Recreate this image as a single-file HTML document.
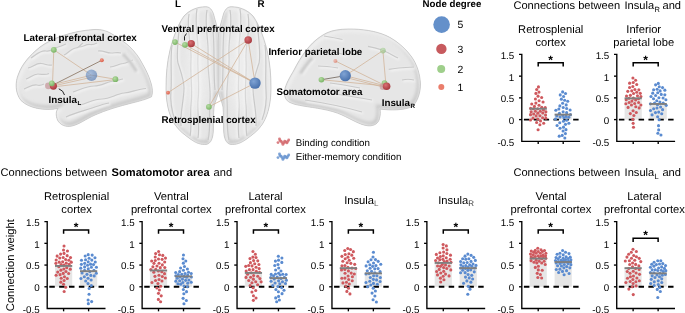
<!DOCTYPE html><html><head><meta charset="utf-8"><style>html,body{margin:0;padding:0;background:#fff;}svg{display:block;will-change:transform;}text{font-family:"Liberation Sans", sans-serif;fill:#000;text-rendering:geometricPrecision;}</style></head><body>
<svg width="685" height="313" viewBox="0 0 685 313">
<defs>
<radialGradient id="bg" cx="50%" cy="45%" r="60%">
<stop offset="0" stop-color="#eeeeee"/><stop offset="0.7" stop-color="#e6e6e6"/><stop offset="1" stop-color="#d6d6d6"/></radialGradient>
<radialGradient id="gb" cx="38%" cy="35%" r="65%"><stop offset="0" stop-color="#7fa3d4"/><stop offset="1" stop-color="#4a72ad"/></radialGradient>
<radialGradient id="gr" cx="38%" cy="35%" r="65%"><stop offset="0" stop-color="#d97074"/><stop offset="1" stop-color="#a83a3f"/></radialGradient>
<radialGradient id="gg" cx="38%" cy="35%" r="65%"><stop offset="0" stop-color="#b5dca2"/><stop offset="1" stop-color="#7cb568"/></radialGradient>
<radialGradient id="go" cx="38%" cy="35%" r="65%"><stop offset="0" stop-color="#f29a88"/><stop offset="1" stop-color="#d9604c"/></radialGradient>
<filter id="bl2" filterUnits="userSpaceOnUse" x="-50" y="-50" width="800" height="420"><feGaussianBlur stdDeviation="2"/></filter><filter id="bl05" filterUnits="userSpaceOnUse" x="-50" y="-50" width="800" height="420"><feGaussianBlur stdDeviation="0.5"/></filter><filter id="bl08" filterUnits="userSpaceOnUse" x="-50" y="-50" width="800" height="420"><feGaussianBlur stdDeviation="0.8"/></filter><filter id="bl4" filterUnits="userSpaceOnUse" x="-50" y="-50" width="800" height="420"><feGaussianBlur stdDeviation="4"/></filter><filter id="bl15" filterUnits="userSpaceOnUse" x="-50" y="-50" width="800" height="420"><feGaussianBlur stdDeviation="1.5"/></filter>
</defs>
<g ><clipPath id="c1"><path d="M58,108.5 C45,111 29,108.5 21,100.5 C15,93 15,82 18.5,74 C22,64 30,55 40,47 C52,38 72,31 94,29.5 C102,29.2 108,31 114,35.3 C121,40 126,43 130,47 C135,52 139,57 142,63 C146,70 149,76 151,83 C152.5,88 153,93 151.5,96.8 C146,99.5 140,101 132,103 C120,106 106,110 95,115 C86,119 79,124.5 72,126 C66,127.5 60,125 57.5,120 C55.5,115 56,111 58,108.5 Z"/></clipPath><path d="M58,108.5 C45,111 29,108.5 21,100.5 C15,93 15,82 18.5,74 C22,64 30,55 40,47 C52,38 72,31 94,29.5 C102,29.2 108,31 114,35.3 C121,40 126,43 130,47 C135,52 139,57 142,63 C146,70 149,76 151,83 C152.5,88 153,93 151.5,96.8 C146,99.5 140,101 132,103 C120,106 106,110 95,115 C86,119 79,124.5 72,126 C66,127.5 60,125 57.5,120 C55.5,115 56,111 58,108.5 Z" fill="#e6e6e6"/><g clip-path="url(#c1)"><path d="M58,108.5 C45,111 29,108.5 21,100.5 C15,93 15,82 18.5,74 C22,64 30,55 40,47 C52,38 72,31 94,29.5 C102,29.2 108,31 114,35.3 C121,40 126,43 130,47 C135,52 139,57 142,63 C146,70 149,76 151,83 C152.5,88 153,93 151.5,96.8 C146,99.5 140,101 132,103 C120,106 106,110 95,115 C86,119 79,124.5 72,126 C66,127.5 60,125 57.5,120 C55.5,115 56,111 58,108.5 Z" fill="none" stroke="#cbcbcb" stroke-width="6" transform="translate(-0.8 -1.2)" filter="url(#bl15)"/><path d="M58,108.5 C45,111 29,108.5 21,100.5 C15,93 15,82 18.5,74 C22,64 30,55 40,47 C52,38 72,31 94,29.5 C102,29.2 108,31 114,35.3 C121,40 126,43 130,47 C135,52 139,57 142,63 C146,70 149,76 151,83 C152.5,88 153,93 151.5,96.8 C146,99.5 140,101 132,103 C120,106 106,110 95,115 C86,119 79,124.5 72,126 C66,127.5 60,125 57.5,120 C55.5,115 56,111 58,108.5 Z" fill="none" stroke="#f1f1f1" stroke-width="4" transform="translate(1.2 1.6)" filter="url(#bl15)"/><path d="M31,58 C36,55 40,50 46,51 C51,52 53,48 58,47 C62,46 63,45 66,44" fill="none" stroke="#f3f3f3" stroke-width="2.2" transform="translate(1.1 1.2)" filter="url(#bl08)"/><path d="M31,58 C36,55 40,50 46,51 C51,52 53,48 58,47 C62,46 63,45 66,44" fill="none" stroke="#c9c9c9" stroke-width="1.2" filter="url(#bl05)"/><path d="M28,68 C33,67 36,63 41,63.5 C46,64 48,66 52,65" fill="none" stroke="#f3f3f3" stroke-width="2.2" transform="translate(1.1 1.2)" filter="url(#bl08)"/><path d="M28,68 C33,67 36,63 41,63.5 C46,64 48,66 52,65" fill="none" stroke="#c9c9c9" stroke-width="1.2" filter="url(#bl05)"/><path d="M26,79 C30,78 33,74 38,74 C42,74 45,75.5 49,73.5" fill="none" stroke="#f3f3f3" stroke-width="2.2" transform="translate(1.1 1.2)" filter="url(#bl08)"/><path d="M26,79 C30,78 33,74 38,74 C42,74 45,75.5 49,73.5" fill="none" stroke="#c9c9c9" stroke-width="1.2" filter="url(#bl05)"/><path d="M24,89 C29,87 33,84 37,85 C40,86 42,85 44,84" fill="none" stroke="#f3f3f3" stroke-width="2.2" transform="translate(1.1 1.2)" filter="url(#bl08)"/><path d="M24,89 C29,87 33,84 37,85 C40,86 42,85 44,84" fill="none" stroke="#c9c9c9" stroke-width="1.2" filter="url(#bl05)"/><path d="M64,55 C68,53 72,48 76,48 C79,48 80,45 83,43" fill="none" stroke="#f3f3f3" stroke-width="2.2" transform="translate(1.1 1.2)" filter="url(#bl08)"/><path d="M64,55 C68,53 72,48 76,48 C79,48 80,45 83,43" fill="none" stroke="#c9c9c9" stroke-width="1.2" filter="url(#bl05)"/><path d="M73,92 C80,90 86,86 94,86 C102,86 108,81 115,81 C118,81 120,79 123,79" fill="none" stroke="#f3f3f3" stroke-width="2.2" transform="translate(1.1 1.2)" filter="url(#bl08)"/><path d="M73,92 C80,90 86,86 94,86 C102,86 108,81 115,81 C118,81 120,79 123,79" fill="none" stroke="#c9c9c9" stroke-width="1.2" filter="url(#bl05)"/><path d="M80,105 C88,103 94,99 102,99 C110,99 116,94 124,93 C132,92 138,89 146,88.5" fill="none" stroke="#f3f3f3" stroke-width="2.2" transform="translate(1.1 1.2)" filter="url(#bl08)"/><path d="M80,105 C88,103 94,99 102,99 C110,99 116,94 124,93 C132,92 138,89 146,88.5" fill="none" stroke="#c9c9c9" stroke-width="1.2" filter="url(#bl05)"/><path d="M79,47 C83,47 86,44 90,44.5 C93,45 95,44 97,43" fill="none" stroke="#f3f3f3" stroke-width="2.2" transform="translate(1.1 1.2)" filter="url(#bl08)"/><path d="M79,47 C83,47 86,44 90,44.5 C93,45 95,44 97,43" fill="none" stroke="#c9c9c9" stroke-width="1.2" filter="url(#bl05)"/><path d="M98,51 C103,50 106,53 111,53 C115,53 118,52 121,53" fill="none" stroke="#f3f3f3" stroke-width="2.2" transform="translate(1.1 1.2)" filter="url(#bl08)"/><path d="M98,51 C103,50 106,53 111,53 C115,53 118,52 121,53" fill="none" stroke="#c9c9c9" stroke-width="1.2" filter="url(#bl05)"/><path d="M110,67 C115,67 118,64 123,63.5 C127,63 129,61 133,60" fill="none" stroke="#f3f3f3" stroke-width="2.2" transform="translate(1.1 1.2)" filter="url(#bl08)"/><path d="M110,67 C115,67 118,64 123,63.5 C127,63 129,61 133,60" fill="none" stroke="#c9c9c9" stroke-width="1.2" filter="url(#bl05)"/><path d="M66,117 C75,113 83,111 92,108 C98,106 103,104 109,103" fill="none" stroke="#f3f3f3" stroke-width="2.2" transform="translate(1.1 1.2)" filter="url(#bl08)"/><path d="M66,117 C75,113 83,111 92,108 C98,106 103,104 109,103" fill="none" stroke="#c9c9c9" stroke-width="1.2" filter="url(#bl05)"/><path d="M123,54 C128,59 133,65 136.5,71.5" fill="none" stroke="#f4f4f4" stroke-width="2.5" transform="translate(1.8 1.2)" filter="url(#bl08)"/><path d="M123,54 C128,59 133,65 136.5,71.5" fill="none" stroke="#c8c8c8" stroke-width="3" filter="url(#bl08)"/></g><path d="M58,108.5 C45,111 29,108.5 21,100.5 C15,93 15,82 18.5,74 C22,64 30,55 40,47 C52,38 72,31 94,29.5 C102,29.2 108,31 114,35.3 C121,40 126,43 130,47 C135,52 139,57 142,63 C146,70 149,76 151,83 C152.5,88 153,93 151.5,96.8 C146,99.5 140,101 132,103 C120,106 106,110 95,115 C86,119 79,124.5 72,126 C66,127.5 60,125 57.5,120 C55.5,115 56,111 58,108.5 Z" fill="none" stroke="#c2c2c2" stroke-width="0.7"/></g>
<g ><clipPath id="c2"><path d="M380,109 C390,110.5 404,110.5 412.5,106.5 C418,101 420.5,92 420.5,84 C420,74 417,64 411,56 C405,48 396,40 386,35.5 C376,31 362,28.8 348,29 C340,29.2 333,30 327,32.8 C318,37 311,44 306,50.5 C301,57 297,64 294,70 C290,77 285.5,84 284.5,91 C284,97 286,100.5 290,102.5 C294,104.5 298,105 303,106 C315,108 330,109.5 342,115 C352,119.5 360,125 368,125.8 C374,126.3 378.5,123.5 379.5,118.5 C380.5,115 380.5,112 380,109 Z"/></clipPath><path d="M380,109 C390,110.5 404,110.5 412.5,106.5 C418,101 420.5,92 420.5,84 C420,74 417,64 411,56 C405,48 396,40 386,35.5 C376,31 362,28.8 348,29 C340,29.2 333,30 327,32.8 C318,37 311,44 306,50.5 C301,57 297,64 294,70 C290,77 285.5,84 284.5,91 C284,97 286,100.5 290,102.5 C294,104.5 298,105 303,106 C315,108 330,109.5 342,115 C352,119.5 360,125 368,125.8 C374,126.3 378.5,123.5 379.5,118.5 C380.5,115 380.5,112 380,109 Z" fill="#e6e6e6"/><g clip-path="url(#c2)"><path d="M380,109 C390,110.5 404,110.5 412.5,106.5 C418,101 420.5,92 420.5,84 C420,74 417,64 411,56 C405,48 396,40 386,35.5 C376,31 362,28.8 348,29 C340,29.2 333,30 327,32.8 C318,37 311,44 306,50.5 C301,57 297,64 294,70 C290,77 285.5,84 284.5,91 C284,97 286,100.5 290,102.5 C294,104.5 298,105 303,106 C315,108 330,109.5 342,115 C352,119.5 360,125 368,125.8 C374,126.3 378.5,123.5 379.5,118.5 C380.5,115 380.5,112 380,109 Z" fill="none" stroke="#cbcbcb" stroke-width="6" transform="translate(-0.8 -1.2)" filter="url(#bl15)"/><path d="M380,109 C390,110.5 404,110.5 412.5,106.5 C418,101 420.5,92 420.5,84 C420,74 417,64 411,56 C405,48 396,40 386,35.5 C376,31 362,28.8 348,29 C340,29.2 333,30 327,32.8 C318,37 311,44 306,50.5 C301,57 297,64 294,70 C290,77 285.5,84 284.5,91 C284,97 286,100.5 290,102.5 C294,104.5 298,105 303,106 C315,108 330,109.5 342,115 C352,119.5 360,125 368,125.8 C374,126.3 378.5,123.5 379.5,118.5 C380.5,115 380.5,112 380,109 Z" fill="none" stroke="#f1f1f1" stroke-width="4" transform="translate(1.2 1.6)" filter="url(#bl15)"/><path d="M368,46.4 C373,47.5 377,48.5 381.8,49.8 C387,52 392,55 398,58" fill="none" stroke="#f3f3f3" stroke-width="2.2" transform="translate(1.1 1.2)" filter="url(#bl08)"/><path d="M368,46.4 C373,47.5 377,48.5 381.8,49.8 C387,52 392,55 398,58" fill="none" stroke="#c9c9c9" stroke-width="1.2" filter="url(#bl05)"/><path d="M388.7,69.4 C396,68 405,67.5 414,67" fill="none" stroke="#f3f3f3" stroke-width="2.2" transform="translate(1.1 1.2)" filter="url(#bl08)"/><path d="M388.7,69.4 C396,68 405,67.5 414,67" fill="none" stroke="#c9c9c9" stroke-width="1.2" filter="url(#bl05)"/><path d="M402,80 C406,79 410,79 414,80" fill="none" stroke="#f3f3f3" stroke-width="2.2" transform="translate(1.1 1.2)" filter="url(#bl08)"/><path d="M402,80 C406,79 410,79 414,80" fill="none" stroke="#c9c9c9" stroke-width="1.2" filter="url(#bl05)"/><path d="M360,88 C350,86 340,84 330,83" fill="none" stroke="#f3f3f3" stroke-width="2.2" transform="translate(1.1 1.2)" filter="url(#bl08)"/><path d="M360,88 C350,86 340,84 330,83" fill="none" stroke="#c9c9c9" stroke-width="1.2" filter="url(#bl05)"/><path d="M372,100 C355,97 338,94 320,92 C310,91 300,91 292,92" fill="none" stroke="#f3f3f3" stroke-width="2.2" transform="translate(1.1 1.2)" filter="url(#bl08)"/><path d="M372,100 C355,97 338,94 320,92 C310,91 300,91 292,92" fill="none" stroke="#c9c9c9" stroke-width="1.2" filter="url(#bl05)"/><path d="M362,112 C345,107 325,103 305,100" fill="none" stroke="#f3f3f3" stroke-width="2.2" transform="translate(1.1 1.2)" filter="url(#bl08)"/><path d="M362,112 C345,107 325,103 305,100" fill="none" stroke="#c9c9c9" stroke-width="1.2" filter="url(#bl05)"/><path d="M324,36 C330,37 336,38 342.5,39.5" fill="none" stroke="#f3f3f3" stroke-width="2.2" transform="translate(1.1 1.2)" filter="url(#bl08)"/><path d="M324,36 C330,37 336,38 342.5,39.5" fill="none" stroke="#c9c9c9" stroke-width="1.2" filter="url(#bl05)"/><path d="M330,50 C335,52 340,54 346,55" fill="none" stroke="#f3f3f3" stroke-width="2.2" transform="translate(1.1 1.2)" filter="url(#bl08)"/><path d="M330,50 C335,52 340,54 346,55" fill="none" stroke="#c9c9c9" stroke-width="1.2" filter="url(#bl05)"/><path d="M318,66 C325,66 332,67 338,68" fill="none" stroke="#f3f3f3" stroke-width="2.2" transform="translate(1.1 1.2)" filter="url(#bl08)"/><path d="M318,66 C325,66 332,67 338,68" fill="none" stroke="#c9c9c9" stroke-width="1.2" filter="url(#bl05)"/><path d="M300.5,73.5 C304,68 308,62 312.5,58" fill="none" stroke="#f4f4f4" stroke-width="2.5" transform="translate(1.8 1.2)" filter="url(#bl08)"/><path d="M300.5,73.5 C304,68 308,62 312.5,58" fill="none" stroke="#c8c8c8" stroke-width="3" filter="url(#bl08)"/></g><path d="M380,109 C390,110.5 404,110.5 412.5,106.5 C418,101 420.5,92 420.5,84 C420,74 417,64 411,56 C405,48 396,40 386,35.5 C376,31 362,28.8 348,29 C340,29.2 333,30 327,32.8 C318,37 311,44 306,50.5 C301,57 297,64 294,70 C290,77 285.5,84 284.5,91 C284,97 286,100.5 290,102.5 C294,104.5 298,105 303,106 C315,108 330,109.5 342,115 C352,119.5 360,125 368,125.8 C374,126.3 378.5,123.5 379.5,118.5 C380.5,115 380.5,112 380,109 Z" fill="none" stroke="#c2c2c2" stroke-width="0.7"/></g>
<g ><clipPath id="c3"><path d="M205.5,6.7 C209.5,6.5 212.5,10 213.8,15 C215.5,22 218.8,30 218.8,42 L218.8,88 C218.6,96 215,101 214,107 C213.3,114 213.6,124 213.3,131 C213,138 211,143.5 206.5,144.4 C201,145 196,143 191,139.5 C185,135 179,131 174.5,124 C168,114 166,100 166,88 C166,75 167,62 170,50 C173,38 178,24 184,16 C190,9.5 198,6.8 205.5,6.7 Z"/></clipPath><path d="M205.5,6.7 C209.5,6.5 212.5,10 213.8,15 C215.5,22 218.8,30 218.8,42 L218.8,88 C218.6,96 215,101 214,107 C213.3,114 213.6,124 213.3,131 C213,138 211,143.5 206.5,144.4 C201,145 196,143 191,139.5 C185,135 179,131 174.5,124 C168,114 166,100 166,88 C166,75 167,62 170,50 C173,38 178,24 184,16 C190,9.5 198,6.8 205.5,6.7 Z" fill="#e6e6e6"/><g clip-path="url(#c3)"><path d="M205.5,6.7 C209.5,6.5 212.5,10 213.8,15 C215.5,22 218.8,30 218.8,42 L218.8,88 C218.6,96 215,101 214,107 C213.3,114 213.6,124 213.3,131 C213,138 211,143.5 206.5,144.4 C201,145 196,143 191,139.5 C185,135 179,131 174.5,124 C168,114 166,100 166,88 C166,75 167,62 170,50 C173,38 178,24 184,16 C190,9.5 198,6.8 205.5,6.7 Z" fill="none" stroke="#cbcbcb" stroke-width="6" transform="translate(-0.8 -1.2)" filter="url(#bl15)"/><path d="M205.5,6.7 C209.5,6.5 212.5,10 213.8,15 C215.5,22 218.8,30 218.8,42 L218.8,88 C218.6,96 215,101 214,107 C213.3,114 213.6,124 213.3,131 C213,138 211,143.5 206.5,144.4 C201,145 196,143 191,139.5 C185,135 179,131 174.5,124 C168,114 166,100 166,88 C166,75 167,62 170,50 C173,38 178,24 184,16 C190,9.5 198,6.8 205.5,6.7 Z" fill="none" stroke="#f1f1f1" stroke-width="4" transform="translate(1.2 1.6)" filter="url(#bl15)"/><path d="M207,10 C204,25 209,40 208,55 C207,70 211,85 210,100 C209,115 211,128 208,140" fill="none" stroke="#f3f3f3" stroke-width="2.2" transform="translate(1.1 1.2)" filter="url(#bl08)"/><path d="M207,10 C204,25 209,40 208,55 C207,70 211,85 210,100 C209,115 211,128 208,140" fill="none" stroke="#c9c9c9" stroke-width="1.2" filter="url(#bl05)"/><path d="M197,9 C194,25 199,40 198,55 C197,70 200,85 198,100 C197,112 200,125 198,138" fill="none" stroke="#f3f3f3" stroke-width="2.2" transform="translate(1.1 1.2)" filter="url(#bl08)"/><path d="M197,9 C194,25 199,40 198,55 C197,70 200,85 198,100 C197,112 200,125 198,138" fill="none" stroke="#c9c9c9" stroke-width="1.2" filter="url(#bl05)"/><path d="M189,14 C186,30 192,45 191,60 C190,75 193,90 191,105 C190,118 192,128 190,136" fill="none" stroke="#f3f3f3" stroke-width="2.2" transform="translate(1.1 1.2)" filter="url(#bl08)"/><path d="M189,14 C186,30 192,45 191,60 C190,75 193,90 191,105 C190,118 192,128 190,136" fill="none" stroke="#c9c9c9" stroke-width="1.2" filter="url(#bl05)"/><path d="M180,22 C178,40 176,55 178,63 C181,72 184,80 184,88 C184,100 180,112 181,126" fill="none" stroke="#f3f3f3" stroke-width="2.2" transform="translate(1.1 1.2)" filter="url(#bl08)"/><path d="M180,22 C178,40 176,55 178,63 C181,72 184,80 184,88 C184,100 180,112 181,126" fill="none" stroke="#c9c9c9" stroke-width="1.2" filter="url(#bl05)"/><path d="M172,45 C170,60 172,75 171,90 C170,102 172,112 175,120" fill="none" stroke="#f3f3f3" stroke-width="2.2" transform="translate(1.1 1.2)" filter="url(#bl08)"/><path d="M172,45 C170,60 172,75 171,90 C170,102 172,112 175,120" fill="none" stroke="#c9c9c9" stroke-width="1.2" filter="url(#bl05)"/><path d="M213,30 C215,50 213,70 215,90" fill="none" stroke="#f3f3f3" stroke-width="2.2" transform="translate(1.1 1.2)" filter="url(#bl08)"/><path d="M213,30 C215,50 213,70 215,90" fill="none" stroke="#c9c9c9" stroke-width="1.2" filter="url(#bl05)"/><ellipse cx="197" cy="70" rx="10" ry="45" fill="#f6f6f6" opacity="0.45" filter="url(#bl4)"/></g><path d="M205.5,6.7 C209.5,6.5 212.5,10 213.8,15 C215.5,22 218.8,30 218.8,42 L218.8,88 C218.6,96 215,101 214,107 C213.3,114 213.6,124 213.3,131 C213,138 211,143.5 206.5,144.4 C201,145 196,143 191,139.5 C185,135 179,131 174.5,124 C168,114 166,100 166,88 C166,75 167,62 170,50 C173,38 178,24 184,16 C190,9.5 198,6.8 205.5,6.7 Z" fill="none" stroke="#c2c2c2" stroke-width="0.7"/></g>
<g transform="translate(437 0) scale(-1 1)"><clipPath id="c4"><path d="M205.5,6.7 C209.5,6.5 212.5,10 213.8,15 C215.5,22 218.8,30 218.8,42 L218.8,88 C218.6,96 215,101 214,107 C213.3,114 213.6,124 213.3,131 C213,138 211,143.5 206.5,144.4 C201,145 196,143 191,139.5 C185,135 179,131 174.5,124 C168,114 166,100 166,88 C166,75 167,62 170,50 C173,38 178,24 184,16 C190,9.5 198,6.8 205.5,6.7 Z"/></clipPath><path d="M205.5,6.7 C209.5,6.5 212.5,10 213.8,15 C215.5,22 218.8,30 218.8,42 L218.8,88 C218.6,96 215,101 214,107 C213.3,114 213.6,124 213.3,131 C213,138 211,143.5 206.5,144.4 C201,145 196,143 191,139.5 C185,135 179,131 174.5,124 C168,114 166,100 166,88 C166,75 167,62 170,50 C173,38 178,24 184,16 C190,9.5 198,6.8 205.5,6.7 Z" fill="#e6e6e6"/><g clip-path="url(#c4)"><path d="M205.5,6.7 C209.5,6.5 212.5,10 213.8,15 C215.5,22 218.8,30 218.8,42 L218.8,88 C218.6,96 215,101 214,107 C213.3,114 213.6,124 213.3,131 C213,138 211,143.5 206.5,144.4 C201,145 196,143 191,139.5 C185,135 179,131 174.5,124 C168,114 166,100 166,88 C166,75 167,62 170,50 C173,38 178,24 184,16 C190,9.5 198,6.8 205.5,6.7 Z" fill="none" stroke="#cbcbcb" stroke-width="6" transform="translate(-0.8 -1.2)" filter="url(#bl15)"/><path d="M205.5,6.7 C209.5,6.5 212.5,10 213.8,15 C215.5,22 218.8,30 218.8,42 L218.8,88 C218.6,96 215,101 214,107 C213.3,114 213.6,124 213.3,131 C213,138 211,143.5 206.5,144.4 C201,145 196,143 191,139.5 C185,135 179,131 174.5,124 C168,114 166,100 166,88 C166,75 167,62 170,50 C173,38 178,24 184,16 C190,9.5 198,6.8 205.5,6.7 Z" fill="none" stroke="#f1f1f1" stroke-width="4" transform="translate(1.2 1.6)" filter="url(#bl15)"/><path d="M207,10 C204,25 209,40 208,55 C207,70 211,85 210,100 C209,115 211,128 208,140" fill="none" stroke="#f3f3f3" stroke-width="2.2" transform="translate(1.1 1.2)" filter="url(#bl08)"/><path d="M207,10 C204,25 209,40 208,55 C207,70 211,85 210,100 C209,115 211,128 208,140" fill="none" stroke="#c9c9c9" stroke-width="1.2" filter="url(#bl05)"/><path d="M197,9 C194,25 199,40 198,55 C197,70 200,85 198,100 C197,112 200,125 198,138" fill="none" stroke="#f3f3f3" stroke-width="2.2" transform="translate(1.1 1.2)" filter="url(#bl08)"/><path d="M197,9 C194,25 199,40 198,55 C197,70 200,85 198,100 C197,112 200,125 198,138" fill="none" stroke="#c9c9c9" stroke-width="1.2" filter="url(#bl05)"/><path d="M189,14 C186,30 192,45 191,60 C190,75 193,90 191,105 C190,118 192,128 190,136" fill="none" stroke="#f3f3f3" stroke-width="2.2" transform="translate(1.1 1.2)" filter="url(#bl08)"/><path d="M189,14 C186,30 192,45 191,60 C190,75 193,90 191,105 C190,118 192,128 190,136" fill="none" stroke="#c9c9c9" stroke-width="1.2" filter="url(#bl05)"/><path d="M180,22 C178,40 176,55 178,63 C181,72 184,80 184,88 C184,100 180,112 181,126" fill="none" stroke="#f3f3f3" stroke-width="2.2" transform="translate(1.1 1.2)" filter="url(#bl08)"/><path d="M180,22 C178,40 176,55 178,63 C181,72 184,80 184,88 C184,100 180,112 181,126" fill="none" stroke="#c9c9c9" stroke-width="1.2" filter="url(#bl05)"/><path d="M172,45 C170,60 172,75 171,90 C170,102 172,112 175,120" fill="none" stroke="#f3f3f3" stroke-width="2.2" transform="translate(1.1 1.2)" filter="url(#bl08)"/><path d="M172,45 C170,60 172,75 171,90 C170,102 172,112 175,120" fill="none" stroke="#c9c9c9" stroke-width="1.2" filter="url(#bl05)"/><path d="M213,30 C215,50 213,70 215,90" fill="none" stroke="#f3f3f3" stroke-width="2.2" transform="translate(1.1 1.2)" filter="url(#bl08)"/><path d="M213,30 C215,50 213,70 215,90" fill="none" stroke="#c9c9c9" stroke-width="1.2" filter="url(#bl05)"/><ellipse cx="197" cy="70" rx="10" ry="45" fill="#f6f6f6" opacity="0.45" filter="url(#bl4)"/></g><path d="M205.5,6.7 C209.5,6.5 212.5,10 213.8,15 C215.5,22 218.8,30 218.8,42 L218.8,88 C218.6,96 215,101 214,107 C213.3,114 213.6,124 213.3,131 C213,138 211,143.5 206.5,144.4 C201,145 196,143 191,139.5 C185,135 179,131 174.5,124 C168,114 166,100 166,88 C166,75 167,62 170,50 C173,38 178,24 184,16 C190,9.5 198,6.8 205.5,6.7 Z" fill="none" stroke="#c2c2c2" stroke-width="0.7"/></g>
<line x1="53.8" y1="49.8" x2="52.5" y2="84" stroke="#d0b196" stroke-width="0.75"/>
<line x1="53.8" y1="49.8" x2="91.5" y2="75.2" stroke="#d0b196" stroke-width="0.75"/>
<line x1="53" y1="85" x2="101.8" y2="60.3" stroke="#86705c" stroke-width="0.8"/>
<line x1="54" y1="84.3" x2="91.5" y2="75.2" stroke="#d0b196" stroke-width="0.75"/>
<line x1="54" y1="85.8" x2="91.5" y2="77.3" stroke="#d0b196" stroke-width="0.75"/>
<line x1="54" y1="86.8" x2="115.4" y2="79.6" stroke="#d0b196" stroke-width="0.75"/>
<line x1="91.5" y1="75.2" x2="115.4" y2="79.2" stroke="#d0b196" stroke-width="0.75"/>
<circle cx="48.4" cy="85.8" r="3.4" fill="#c79a9c" opacity="0.75"/>
<circle cx="53.4" cy="86.1" r="3.6" fill="url(#gr)"/>
<circle cx="51.8" cy="83.3" r="2.9" fill="url(#gg)"/>
<circle cx="53.8" cy="49.8" r="2.9" fill="url(#gg)"/>
<circle cx="101.8" cy="60.3" r="2.0" fill="url(#go)"/>
<circle cx="91.5" cy="75.2" r="5.7" fill="url(#gb)" opacity="0.62"/>
<circle cx="115.4" cy="79.2" r="2.9" fill="url(#gg)"/>
<line x1="175" y1="42.1" x2="255" y2="83.1" stroke="#d0b196" stroke-width="0.75"/>
<line x1="185" y1="44.8" x2="255" y2="83.1" stroke="#d0b196" stroke-width="0.75"/>
<line x1="191.2" y1="43.6" x2="255" y2="83.1" stroke="#d0b196" stroke-width="0.75"/>
<line x1="248.2" y1="40" x2="168" y2="92.7" stroke="#d0b196" stroke-width="0.75"/>
<line x1="248.2" y1="40" x2="208.9" y2="106.8" stroke="#d0b196" stroke-width="0.75"/>
<line x1="248.2" y1="40" x2="255" y2="83.1" stroke="#d0b196" stroke-width="0.75"/>
<line x1="208.9" y1="106.8" x2="255" y2="83.1" stroke="#d0b196" stroke-width="0.75"/>
<circle cx="175" cy="42.1" r="2.8" fill="url(#gg)"/>
<circle cx="191.2" cy="43.6" r="3.7" fill="url(#gr)"/>
<circle cx="185" cy="44.8" r="2.9" fill="url(#gg)"/>
<circle cx="248.2" cy="40" r="3.8" fill="url(#gr)"/>
<circle cx="255" cy="83.1" r="5.7" fill="url(#gb)"/>
<circle cx="168" cy="92.7" r="1.9" fill="url(#go)"/>
<circle cx="208.9" cy="106.8" r="2.9" fill="url(#gg)"/>
<line x1="382.9" y1="50.6" x2="386" y2="86" stroke="#d0b196" stroke-width="0.75"/>
<line x1="382.9" y1="50.6" x2="345.3" y2="75.7" stroke="#d0b196" stroke-width="0.75"/>
<line x1="335.4" y1="61" x2="386" y2="86" stroke="#d0b196" stroke-width="0.75"/>
<line x1="345.3" y1="75.7" x2="386" y2="86" stroke="#d0b196" stroke-width="0.75"/>
<line x1="346" y1="77.5" x2="385" y2="87.5" stroke="#d0b196" stroke-width="0.75"/>
<line x1="321.4" y1="79.7" x2="386" y2="86" stroke="#d0b196" stroke-width="0.75"/>
<line x1="321.4" y1="79.7" x2="345.3" y2="75.7" stroke="#6d6258" stroke-width="0.8"/>
<circle cx="384.5" cy="83" r="2.8" fill="url(#gg)"/>
<circle cx="383" cy="86.8" r="3.3" fill="#c79a9c" opacity="0.7"/>
<circle cx="386.6" cy="86.2" r="3.8" fill="url(#gr)"/>
<circle cx="382.9" cy="50.6" r="2.9" fill="url(#gg)" opacity="0.55"/>
<circle cx="335.4" cy="61" r="2.0" fill="url(#go)" opacity="0.55"/>
<circle cx="345.3" cy="75.7" r="5.6" fill="url(#gb)"/>
<circle cx="321.4" cy="79.7" r="2.8" fill="url(#gg)"/>
<text x="175" y="7.2" font-size="9.8" font-weight="bold">L</text>
<text x="257.6" y="7.2" font-size="9.8" font-weight="bold">R</text>
<text x="23.6" y="40.6" font-size="9.85" font-weight="bold">Lateral prefrontal cortex</text>
<text x="161.5" y="32.2" font-size="9.8" font-weight="bold">Ventral prefrontal cortex</text>
<text x="161.4" y="122.5" font-size="9.8" font-weight="bold">Retrosplenial cortex</text>
<text x="362.3" y="55.3" font-size="9.78" font-weight="bold" text-anchor="end">Inferior parietal lobe</text>
<text x="362.3" y="95.2" font-size="9.72" font-weight="bold" text-anchor="end">Somatomotor area</text>
<text x="48.6" y="102.8" font-size="9.8" font-weight="bold">Insula<tspan font-size="6" dy="2.6" dx="0.6">L</tspan></text>
<text x="381.7" y="105.5" font-size="9.8" font-weight="bold">Insula<tspan font-size="6.3" dy="2.6" dx="0.4">R</tspan></text>
<path d="M58.8,88.8 Q63.5,90.5 64.5,95" fill="none" stroke="#111" stroke-width="0.9"/>
<path d="M186.5,33.5 Q183.5,36 184.5,40.5" fill="none" stroke="#111" stroke-width="0.9"/>
<rect x="529.60" y="108.74" width="17.2" height="10.86" fill="#e6e6e6"/>
<rect x="554.60" y="114.60" width="17.2" height="5.00" fill="#e6e6e6"/>
<line x1="523.90" y1="119.60" x2="578.60" y2="119.60" stroke="#000" stroke-width="1.9" stroke-dasharray="5.5 4.35"/>
<circle cx="538.45" cy="86.88" r="1.55" fill="#cf595e"/>
<circle cx="536.70" cy="89.54" r="1.55" fill="#cf595e"/>
<circle cx="538.99" cy="92.12" r="1.55" fill="#cf595e"/>
<circle cx="535.92" cy="93.42" r="1.55" fill="#cf595e"/>
<circle cx="538.04" cy="96.16" r="1.55" fill="#cf595e"/>
<circle cx="541.67" cy="97.48" r="1.55" fill="#cf595e"/>
<circle cx="535.41" cy="98.93" r="1.55" fill="#cf595e"/>
<circle cx="539.12" cy="100.77" r="1.55" fill="#cf595e"/>
<circle cx="543.06" cy="101.93" r="1.55" fill="#cf595e"/>
<circle cx="535.88" cy="103.10" r="1.55" fill="#cf595e"/>
<circle cx="531.75" cy="103.94" r="1.55" fill="#cf595e"/>
<circle cx="539.00" cy="105.19" r="1.55" fill="#cf595e"/>
<circle cx="534.45" cy="106.38" r="1.55" fill="#cf595e"/>
<circle cx="541.75" cy="107.29" r="1.55" fill="#cf595e"/>
<circle cx="545.22" cy="107.43" r="1.55" fill="#cf595e"/>
<circle cx="530.62" cy="108.35" r="1.55" fill="#cf595e"/>
<circle cx="537.65" cy="108.71" r="1.55" fill="#cf595e"/>
<circle cx="533.30" cy="108.78" r="1.55" fill="#cf595e"/>
<circle cx="543.45" cy="109.88" r="1.55" fill="#cf595e"/>
<circle cx="540.30" cy="111.20" r="1.55" fill="#cf595e"/>
<circle cx="535.40" cy="111.20" r="1.55" fill="#cf595e"/>
<circle cx="531.20" cy="111.69" r="1.55" fill="#cf595e"/>
<circle cx="545.90" cy="111.79" r="1.55" fill="#cf595e"/>
<circle cx="542.75" cy="113.07" r="1.55" fill="#cf595e"/>
<circle cx="537.85" cy="113.16" r="1.55" fill="#cf595e"/>
<circle cx="533.65" cy="113.97" r="1.55" fill="#cf595e"/>
<circle cx="530.50" cy="114.64" r="1.55" fill="#cf595e"/>
<circle cx="545.55" cy="115.09" r="1.55" fill="#cf595e"/>
<circle cx="539.91" cy="115.70" r="1.55" fill="#cf595e"/>
<circle cx="536.10" cy="115.90" r="1.55" fill="#cf595e"/>
<circle cx="542.62" cy="117.68" r="1.55" fill="#cf595e"/>
<circle cx="533.01" cy="118.14" r="1.55" fill="#cf595e"/>
<circle cx="545.90" cy="118.32" r="1.55" fill="#cf595e"/>
<circle cx="537.76" cy="119.04" r="1.55" fill="#cf595e"/>
<circle cx="530.50" cy="120.03" r="1.55" fill="#cf595e"/>
<circle cx="540.49" cy="120.88" r="1.55" fill="#cf595e"/>
<circle cx="536.61" cy="122.55" r="1.55" fill="#cf595e"/>
<circle cx="543.68" cy="123.25" r="1.55" fill="#cf595e"/>
<circle cx="539.88" cy="124.77" r="1.55" fill="#cf595e"/>
<circle cx="538.10" cy="129.77" r="1.55" fill="#cf595e"/>
<circle cx="562.63" cy="91.91" r="1.55" fill="#5a8bd0"/>
<circle cx="565.52" cy="93.44" r="1.55" fill="#5a8bd0"/>
<circle cx="560.23" cy="94.88" r="1.55" fill="#5a8bd0"/>
<circle cx="563.56" cy="96.49" r="1.55" fill="#5a8bd0"/>
<circle cx="561.34" cy="99.16" r="1.55" fill="#5a8bd0"/>
<circle cx="564.67" cy="100.25" r="1.55" fill="#5a8bd0"/>
<circle cx="567.74" cy="101.32" r="1.55" fill="#5a8bd0"/>
<circle cx="562.62" cy="103.18" r="1.55" fill="#5a8bd0"/>
<circle cx="566.21" cy="104.90" r="1.55" fill="#5a8bd0"/>
<circle cx="559.84" cy="105.89" r="1.55" fill="#5a8bd0"/>
<circle cx="563.23" cy="107.51" r="1.55" fill="#5a8bd0"/>
<circle cx="566.64" cy="108.47" r="1.55" fill="#5a8bd0"/>
<circle cx="558.83" cy="109.07" r="1.55" fill="#5a8bd0"/>
<circle cx="570.11" cy="109.93" r="1.55" fill="#5a8bd0"/>
<circle cx="555.84" cy="110.26" r="1.55" fill="#5a8bd0"/>
<circle cx="563.15" cy="111.75" r="1.55" fill="#5a8bd0"/>
<circle cx="566.64" cy="112.64" r="1.55" fill="#5a8bd0"/>
<circle cx="559.43" cy="113.26" r="1.55" fill="#5a8bd0"/>
<circle cx="570.40" cy="114.65" r="1.55" fill="#5a8bd0"/>
<circle cx="562.85" cy="115.45" r="1.55" fill="#5a8bd0"/>
<circle cx="556.80" cy="115.92" r="1.55" fill="#5a8bd0"/>
<circle cx="566.05" cy="116.41" r="1.55" fill="#5a8bd0"/>
<circle cx="560.05" cy="117.01" r="1.55" fill="#5a8bd0"/>
<circle cx="568.80" cy="117.20" r="1.55" fill="#5a8bd0"/>
<circle cx="563.90" cy="117.87" r="1.55" fill="#5a8bd0"/>
<circle cx="555.50" cy="118.95" r="1.55" fill="#5a8bd0"/>
<circle cx="566.56" cy="120.28" r="1.55" fill="#5a8bd0"/>
<circle cx="563.45" cy="121.32" r="1.55" fill="#5a8bd0"/>
<circle cx="559.75" cy="122.76" r="1.55" fill="#5a8bd0"/>
<circle cx="568.87" cy="123.30" r="1.55" fill="#5a8bd0"/>
<circle cx="565.47" cy="124.35" r="1.55" fill="#5a8bd0"/>
<circle cx="557.06" cy="125.44" r="1.55" fill="#5a8bd0"/>
<circle cx="563.49" cy="127.14" r="1.55" fill="#5a8bd0"/>
<circle cx="560.05" cy="128.20" r="1.55" fill="#5a8bd0"/>
<circle cx="565.97" cy="129.66" r="1.55" fill="#5a8bd0"/>
<circle cx="563.09" cy="131.07" r="1.55" fill="#5a8bd0"/>
<circle cx="565.43" cy="133.58" r="1.55" fill="#5a8bd0"/>
<circle cx="562.21" cy="135.41" r="1.55" fill="#5a8bd0"/>
<circle cx="559.23" cy="136.15" r="1.55" fill="#5a8bd0"/>
<circle cx="564.84" cy="138.04" r="1.55" fill="#5a8bd0"/>
<line x1="529.60" y1="108.74" x2="546.80" y2="108.74" stroke="#7f7f7f" stroke-width="1.9"/>
<line x1="554.60" y1="114.60" x2="571.80" y2="114.60" stroke="#7f7f7f" stroke-width="1.9"/>
<path d="M519.0 54.42H521.8V141.32H580.0999999999999" fill="none" stroke="#000" stroke-width="1.35"/>
<line x1="519.0" y1="76.15" x2="521.8" y2="76.15" stroke="#000" stroke-width="1.35"/>
<line x1="519.0" y1="97.88" x2="521.8" y2="97.88" stroke="#000" stroke-width="1.35"/>
<line x1="519.0" y1="119.60" x2="521.8" y2="119.60" stroke="#000" stroke-width="1.35"/>
<line x1="538.20" y1="141.32" x2="538.20" y2="144.12" stroke="#000" stroke-width="1.35"/>
<line x1="563.20" y1="141.32" x2="563.20" y2="144.12" stroke="#000" stroke-width="1.35"/>
<text x="514.30" y="58.82" text-anchor="end" font-size="9.8">1.5</text>
<text x="514.30" y="80.55" text-anchor="end" font-size="9.8">1</text>
<text x="514.30" y="102.28" text-anchor="end" font-size="9.8">0.5</text>
<text x="514.30" y="124.00" text-anchor="end" font-size="9.8">0</text>
<text x="514.30" y="145.72" text-anchor="end" font-size="9.8">-0.5</text>
<path d="M538.20 66.48V62.68H563.20V66.48" fill="none" stroke="#000" stroke-width="1.5"/>
<text x="550.70" y="63.98" text-anchor="middle" font-size="12" font-weight="bold">*</text>
<text x="550.7" y="32.9" text-anchor="middle" font-size="11.2">Retrosplenial</text>
<text x="550.7" y="46.0" text-anchor="middle" font-size="11.2">cortex</text>
<rect x="624.60" y="98.31" width="17.2" height="21.29" fill="#e6e6e6"/>
<rect x="649.60" y="103.96" width="17.2" height="15.64" fill="#e6e6e6"/>
<line x1="618.90" y1="119.60" x2="673.60" y2="119.60" stroke="#000" stroke-width="1.9" stroke-dasharray="5.5 4.35"/>
<circle cx="632.93" cy="78.04" r="1.55" fill="#cf595e"/>
<circle cx="635.62" cy="80.32" r="1.55" fill="#cf595e"/>
<circle cx="633.21" cy="82.54" r="1.55" fill="#cf595e"/>
<circle cx="629.60" cy="83.17" r="1.55" fill="#cf595e"/>
<circle cx="636.73" cy="84.51" r="1.55" fill="#cf595e"/>
<circle cx="632.85" cy="86.57" r="1.55" fill="#cf595e"/>
<circle cx="629.56" cy="87.53" r="1.55" fill="#cf595e"/>
<circle cx="634.89" cy="89.48" r="1.55" fill="#cf595e"/>
<circle cx="638.87" cy="89.87" r="1.55" fill="#cf595e"/>
<circle cx="631.75" cy="90.86" r="1.55" fill="#cf595e"/>
<circle cx="627.79" cy="91.37" r="1.55" fill="#cf595e"/>
<circle cx="636.70" cy="92.30" r="1.55" fill="#cf595e"/>
<circle cx="640.29" cy="93.35" r="1.55" fill="#cf595e"/>
<circle cx="633.55" cy="93.56" r="1.55" fill="#cf595e"/>
<circle cx="630.41" cy="95.37" r="1.55" fill="#cf595e"/>
<circle cx="637.48" cy="95.74" r="1.55" fill="#cf595e"/>
<circle cx="626.51" cy="96.09" r="1.55" fill="#cf595e"/>
<circle cx="640.90" cy="96.60" r="1.55" fill="#cf595e"/>
<circle cx="633.39" cy="98.16" r="1.55" fill="#cf595e"/>
<circle cx="629.00" cy="98.23" r="1.55" fill="#cf595e"/>
<circle cx="638.45" cy="98.79" r="1.55" fill="#cf595e"/>
<circle cx="626.23" cy="99.80" r="1.55" fill="#cf595e"/>
<circle cx="635.65" cy="100.07" r="1.55" fill="#cf595e"/>
<circle cx="631.91" cy="101.10" r="1.55" fill="#cf595e"/>
<circle cx="629.14" cy="102.46" r="1.55" fill="#cf595e"/>
<circle cx="638.62" cy="102.55" r="1.55" fill="#cf595e"/>
<circle cx="634.67" cy="103.48" r="1.55" fill="#cf595e"/>
<circle cx="625.87" cy="103.74" r="1.55" fill="#cf595e"/>
<circle cx="631.45" cy="104.94" r="1.55" fill="#cf595e"/>
<circle cx="640.90" cy="104.98" r="1.55" fill="#cf595e"/>
<circle cx="635.80" cy="106.69" r="1.55" fill="#cf595e"/>
<circle cx="628.09" cy="107.39" r="1.55" fill="#cf595e"/>
<circle cx="639.15" cy="107.90" r="1.55" fill="#cf595e"/>
<circle cx="633.10" cy="110.78" r="1.55" fill="#cf595e"/>
<circle cx="636.27" cy="112.53" r="1.55" fill="#cf595e"/>
<circle cx="630.32" cy="113.61" r="1.55" fill="#cf595e"/>
<circle cx="633.88" cy="115.45" r="1.55" fill="#cf595e"/>
<circle cx="632.89" cy="119.34" r="1.55" fill="#cf595e"/>
<circle cx="633.15" cy="123.37" r="1.55" fill="#cf595e"/>
<circle cx="633.47" cy="127.30" r="1.55" fill="#cf595e"/>
<circle cx="658.31" cy="83.40" r="1.55" fill="#5a8bd0"/>
<circle cx="655.60" cy="84.84" r="1.55" fill="#5a8bd0"/>
<circle cx="659.27" cy="86.74" r="1.55" fill="#5a8bd0"/>
<circle cx="662.55" cy="87.60" r="1.55" fill="#5a8bd0"/>
<circle cx="657.15" cy="89.22" r="1.55" fill="#5a8bd0"/>
<circle cx="653.63" cy="89.73" r="1.55" fill="#5a8bd0"/>
<circle cx="664.87" cy="90.15" r="1.55" fill="#5a8bd0"/>
<circle cx="660.12" cy="90.89" r="1.55" fill="#5a8bd0"/>
<circle cx="657.73" cy="92.82" r="1.55" fill="#5a8bd0"/>
<circle cx="652.72" cy="93.15" r="1.55" fill="#5a8bd0"/>
<circle cx="661.26" cy="94.38" r="1.55" fill="#5a8bd0"/>
<circle cx="664.85" cy="94.83" r="1.55" fill="#5a8bd0"/>
<circle cx="655.62" cy="95.48" r="1.55" fill="#5a8bd0"/>
<circle cx="651.01" cy="96.43" r="1.55" fill="#5a8bd0"/>
<circle cx="658.92" cy="97.81" r="1.55" fill="#5a8bd0"/>
<circle cx="663.09" cy="97.98" r="1.55" fill="#5a8bd0"/>
<circle cx="653.53" cy="98.72" r="1.55" fill="#5a8bd0"/>
<circle cx="665.90" cy="99.75" r="1.55" fill="#5a8bd0"/>
<circle cx="656.77" cy="100.75" r="1.55" fill="#5a8bd0"/>
<circle cx="659.88" cy="102.03" r="1.55" fill="#5a8bd0"/>
<circle cx="654.58" cy="103.03" r="1.55" fill="#5a8bd0"/>
<circle cx="663.23" cy="103.05" r="1.55" fill="#5a8bd0"/>
<circle cx="650.47" cy="103.86" r="1.55" fill="#5a8bd0"/>
<circle cx="657.50" cy="104.64" r="1.55" fill="#5a8bd0"/>
<circle cx="666.20" cy="105.33" r="1.55" fill="#5a8bd0"/>
<circle cx="660.60" cy="107.07" r="1.55" fill="#5a8bd0"/>
<circle cx="656.97" cy="108.03" r="1.55" fill="#5a8bd0"/>
<circle cx="653.65" cy="108.76" r="1.55" fill="#5a8bd0"/>
<circle cx="662.60" cy="109.63" r="1.55" fill="#5a8bd0"/>
<circle cx="650.48" cy="110.50" r="1.55" fill="#5a8bd0"/>
<circle cx="658.71" cy="112.12" r="1.55" fill="#5a8bd0"/>
<circle cx="655.47" cy="112.62" r="1.55" fill="#5a8bd0"/>
<circle cx="661.72" cy="113.78" r="1.55" fill="#5a8bd0"/>
<circle cx="652.08" cy="114.83" r="1.55" fill="#5a8bd0"/>
<circle cx="657.65" cy="116.71" r="1.55" fill="#5a8bd0"/>
<circle cx="659.11" cy="119.78" r="1.55" fill="#5a8bd0"/>
<circle cx="658.53" cy="125.64" r="1.55" fill="#5a8bd0"/>
<circle cx="658.68" cy="129.91" r="1.55" fill="#5a8bd0"/>
<circle cx="657.87" cy="133.26" r="1.55" fill="#5a8bd0"/>
<circle cx="660.94" cy="135.04" r="1.55" fill="#5a8bd0"/>
<line x1="624.60" y1="98.31" x2="641.80" y2="98.31" stroke="#7f7f7f" stroke-width="1.9"/>
<line x1="649.60" y1="103.96" x2="666.80" y2="103.96" stroke="#7f7f7f" stroke-width="1.9"/>
<path d="M614.0 54.42H616.8V141.32H675.0999999999999" fill="none" stroke="#000" stroke-width="1.35"/>
<line x1="614.0" y1="76.15" x2="616.8" y2="76.15" stroke="#000" stroke-width="1.35"/>
<line x1="614.0" y1="97.88" x2="616.8" y2="97.88" stroke="#000" stroke-width="1.35"/>
<line x1="614.0" y1="119.60" x2="616.8" y2="119.60" stroke="#000" stroke-width="1.35"/>
<line x1="633.20" y1="141.32" x2="633.20" y2="144.12" stroke="#000" stroke-width="1.35"/>
<line x1="658.20" y1="141.32" x2="658.20" y2="144.12" stroke="#000" stroke-width="1.35"/>
<text x="609.30" y="58.82" text-anchor="end" font-size="9.8">1.5</text>
<text x="609.30" y="80.55" text-anchor="end" font-size="9.8">1</text>
<text x="609.30" y="102.28" text-anchor="end" font-size="9.8">0.5</text>
<text x="609.30" y="124.00" text-anchor="end" font-size="9.8">0</text>
<text x="609.30" y="145.72" text-anchor="end" font-size="9.8">-0.5</text>
<path d="M633.20 66.48V62.68H658.20V66.48" fill="none" stroke="#000" stroke-width="1.5"/>
<text x="645.70" y="63.98" text-anchor="middle" font-size="12" font-weight="bold">*</text>
<text x="643.7" y="32.9" text-anchor="middle" font-size="11.2">Inferior</text>
<text x="643.7" y="46.0" text-anchor="middle" font-size="11.2">parietal lobe</text>
<rect x="55.00" y="265.94" width="17.2" height="20.86" fill="#e6e6e6"/>
<rect x="80.00" y="271.16" width="17.2" height="15.64" fill="#e6e6e6"/>
<line x1="49.30" y1="286.80" x2="104.00" y2="286.80" stroke="#000" stroke-width="1.9" stroke-dasharray="5.5 4.35"/>
<circle cx="64.04" cy="245.96" r="1.55" fill="#cf595e"/>
<circle cx="63.53" cy="250.03" r="1.55" fill="#cf595e"/>
<circle cx="67.47" cy="251.06" r="1.55" fill="#cf595e"/>
<circle cx="64.05" cy="253.38" r="1.55" fill="#cf595e"/>
<circle cx="60.59" cy="254.12" r="1.55" fill="#cf595e"/>
<circle cx="67.17" cy="255.65" r="1.55" fill="#cf595e"/>
<circle cx="57.14" cy="256.09" r="1.55" fill="#cf595e"/>
<circle cx="63.18" cy="257.45" r="1.55" fill="#cf595e"/>
<circle cx="70.50" cy="257.59" r="1.55" fill="#cf595e"/>
<circle cx="59.75" cy="257.93" r="1.55" fill="#cf595e"/>
<circle cx="65.66" cy="259.55" r="1.55" fill="#cf595e"/>
<circle cx="56.19" cy="259.94" r="1.55" fill="#cf595e"/>
<circle cx="68.85" cy="260.18" r="1.55" fill="#cf595e"/>
<circle cx="62.66" cy="261.69" r="1.55" fill="#cf595e"/>
<circle cx="59.20" cy="262.13" r="1.55" fill="#cf595e"/>
<circle cx="71.30" cy="262.15" r="1.55" fill="#cf595e"/>
<circle cx="66.23" cy="263.14" r="1.55" fill="#cf595e"/>
<circle cx="55.90" cy="263.37" r="1.55" fill="#cf595e"/>
<circle cx="69.20" cy="264.42" r="1.55" fill="#cf595e"/>
<circle cx="61.15" cy="264.59" r="1.55" fill="#cf595e"/>
<circle cx="63.95" cy="265.00" r="1.55" fill="#cf595e"/>
<circle cx="58.86" cy="266.76" r="1.55" fill="#cf595e"/>
<circle cx="66.74" cy="267.77" r="1.55" fill="#cf595e"/>
<circle cx="63.80" cy="268.97" r="1.55" fill="#cf595e"/>
<circle cx="70.26" cy="269.17" r="1.55" fill="#cf595e"/>
<circle cx="60.91" cy="270.14" r="1.55" fill="#cf595e"/>
<circle cx="65.95" cy="271.46" r="1.55" fill="#cf595e"/>
<circle cx="57.72" cy="272.10" r="1.55" fill="#cf595e"/>
<circle cx="63.23" cy="273.40" r="1.55" fill="#cf595e"/>
<circle cx="68.65" cy="273.49" r="1.55" fill="#cf595e"/>
<circle cx="60.10" cy="274.66" r="1.55" fill="#cf595e"/>
<circle cx="56.10" cy="275.20" r="1.55" fill="#cf595e"/>
<circle cx="64.48" cy="276.76" r="1.55" fill="#cf595e"/>
<circle cx="61.24" cy="278.26" r="1.55" fill="#cf595e"/>
<circle cx="67.27" cy="278.48" r="1.55" fill="#cf595e"/>
<circle cx="64.11" cy="280.57" r="1.55" fill="#cf595e"/>
<circle cx="60.83" cy="282.15" r="1.55" fill="#cf595e"/>
<circle cx="63.54" cy="284.19" r="1.55" fill="#cf595e"/>
<circle cx="65.71" cy="287.25" r="1.55" fill="#cf595e"/>
<circle cx="64.15" cy="291.53" r="1.55" fill="#cf595e"/>
<circle cx="88.21" cy="254.66" r="1.55" fill="#5a8bd0"/>
<circle cx="92.17" cy="255.09" r="1.55" fill="#5a8bd0"/>
<circle cx="85.20" cy="256.00" r="1.55" fill="#5a8bd0"/>
<circle cx="94.97" cy="257.69" r="1.55" fill="#5a8bd0"/>
<circle cx="89.12" cy="258.25" r="1.55" fill="#5a8bd0"/>
<circle cx="85.56" cy="259.78" r="1.55" fill="#5a8bd0"/>
<circle cx="91.82" cy="260.09" r="1.55" fill="#5a8bd0"/>
<circle cx="81.50" cy="260.30" r="1.55" fill="#5a8bd0"/>
<circle cx="88.21" cy="261.84" r="1.55" fill="#5a8bd0"/>
<circle cx="95.25" cy="262.07" r="1.55" fill="#5a8bd0"/>
<circle cx="84.70" cy="263.33" r="1.55" fill="#5a8bd0"/>
<circle cx="90.56" cy="264.15" r="1.55" fill="#5a8bd0"/>
<circle cx="81.39" cy="264.37" r="1.55" fill="#5a8bd0"/>
<circle cx="93.50" cy="264.58" r="1.55" fill="#5a8bd0"/>
<circle cx="87.55" cy="265.27" r="1.55" fill="#5a8bd0"/>
<circle cx="84.64" cy="266.88" r="1.55" fill="#5a8bd0"/>
<circle cx="96.42" cy="267.24" r="1.55" fill="#5a8bd0"/>
<circle cx="91.40" cy="267.26" r="1.55" fill="#5a8bd0"/>
<circle cx="80.78" cy="268.15" r="1.55" fill="#5a8bd0"/>
<circle cx="88.25" cy="268.68" r="1.55" fill="#5a8bd0"/>
<circle cx="93.95" cy="270.18" r="1.55" fill="#5a8bd0"/>
<circle cx="84.58" cy="270.38" r="1.55" fill="#5a8bd0"/>
<circle cx="89.81" cy="271.61" r="1.55" fill="#5a8bd0"/>
<circle cx="82.07" cy="272.99" r="1.55" fill="#5a8bd0"/>
<circle cx="96.32" cy="273.26" r="1.55" fill="#5a8bd0"/>
<circle cx="86.97" cy="274.35" r="1.55" fill="#5a8bd0"/>
<circle cx="90.83" cy="275.42" r="1.55" fill="#5a8bd0"/>
<circle cx="94.20" cy="275.91" r="1.55" fill="#5a8bd0"/>
<circle cx="84.32" cy="276.72" r="1.55" fill="#5a8bd0"/>
<circle cx="88.04" cy="278.32" r="1.55" fill="#5a8bd0"/>
<circle cx="80.94" cy="278.57" r="1.55" fill="#5a8bd0"/>
<circle cx="91.14" cy="280.00" r="1.55" fill="#5a8bd0"/>
<circle cx="85.70" cy="281.03" r="1.55" fill="#5a8bd0"/>
<circle cx="88.02" cy="283.58" r="1.55" fill="#5a8bd0"/>
<circle cx="91.32" cy="285.50" r="1.55" fill="#5a8bd0"/>
<circle cx="89.16" cy="288.54" r="1.55" fill="#5a8bd0"/>
<circle cx="89.05" cy="294.28" r="1.55" fill="#5a8bd0"/>
<circle cx="88.11" cy="300.00" r="1.55" fill="#5a8bd0"/>
<circle cx="91.63" cy="301.59" r="1.55" fill="#5a8bd0"/>
<circle cx="88.34" cy="303.65" r="1.55" fill="#5a8bd0"/>
<line x1="55.00" y1="265.94" x2="72.20" y2="265.94" stroke="#7f7f7f" stroke-width="1.9"/>
<line x1="80.00" y1="271.16" x2="97.20" y2="271.16" stroke="#7f7f7f" stroke-width="1.9"/>
<path d="M44.400000000000006 221.62H47.2V308.53H105.5" fill="none" stroke="#000" stroke-width="1.35"/>
<line x1="44.400000000000006" y1="243.35" x2="47.2" y2="243.35" stroke="#000" stroke-width="1.35"/>
<line x1="44.400000000000006" y1="265.07" x2="47.2" y2="265.07" stroke="#000" stroke-width="1.35"/>
<line x1="44.400000000000006" y1="286.80" x2="47.2" y2="286.80" stroke="#000" stroke-width="1.35"/>
<line x1="63.60" y1="308.53" x2="63.60" y2="311.33" stroke="#000" stroke-width="1.35"/>
<line x1="88.60" y1="308.53" x2="88.60" y2="311.33" stroke="#000" stroke-width="1.35"/>
<text x="39.70" y="226.03" text-anchor="end" font-size="9.8">1.5</text>
<text x="39.70" y="247.75" text-anchor="end" font-size="9.8">1</text>
<text x="39.70" y="269.47" text-anchor="end" font-size="9.8">0.5</text>
<text x="39.70" y="291.20" text-anchor="end" font-size="9.8">0</text>
<text x="39.70" y="312.93" text-anchor="end" font-size="9.8">-0.5</text>
<path d="M63.60 233.68V229.88H88.60V233.68" fill="none" stroke="#000" stroke-width="1.5"/>
<text x="76.10" y="231.18" text-anchor="middle" font-size="12" font-weight="bold">*</text>
<text x="76.6" y="199.7" text-anchor="middle" font-size="11.2">Retrosplenial</text>
<text x="76.6" y="212.8" text-anchor="middle" font-size="11.2">cortex</text>
<rect x="149.92" y="270.46" width="17.2" height="16.34" fill="#e6e6e6"/>
<rect x="174.92" y="276.37" width="17.2" height="10.43" fill="#e6e6e6"/>
<line x1="144.22" y1="286.80" x2="198.92" y2="286.80" stroke="#000" stroke-width="1.9" stroke-dasharray="5.5 4.35"/>
<circle cx="158.60" cy="251.49" r="1.55" fill="#cf595e"/>
<circle cx="155.68" cy="253.59" r="1.55" fill="#cf595e"/>
<circle cx="159.51" cy="254.78" r="1.55" fill="#cf595e"/>
<circle cx="162.79" cy="255.39" r="1.55" fill="#cf595e"/>
<circle cx="155.24" cy="256.95" r="1.55" fill="#cf595e"/>
<circle cx="165.49" cy="258.08" r="1.55" fill="#cf595e"/>
<circle cx="158.49" cy="259.02" r="1.55" fill="#cf595e"/>
<circle cx="162.14" cy="259.33" r="1.55" fill="#cf595e"/>
<circle cx="155.29" cy="260.46" r="1.55" fill="#cf595e"/>
<circle cx="151.67" cy="260.98" r="1.55" fill="#cf595e"/>
<circle cx="164.70" cy="261.93" r="1.55" fill="#cf595e"/>
<circle cx="159.03" cy="263.32" r="1.55" fill="#cf595e"/>
<circle cx="153.97" cy="263.36" r="1.55" fill="#cf595e"/>
<circle cx="162.35" cy="264.89" r="1.55" fill="#cf595e"/>
<circle cx="157.00" cy="266.01" r="1.55" fill="#cf595e"/>
<circle cx="152.90" cy="266.84" r="1.55" fill="#cf595e"/>
<circle cx="164.81" cy="267.52" r="1.55" fill="#cf595e"/>
<circle cx="160.27" cy="267.65" r="1.55" fill="#cf595e"/>
<circle cx="155.72" cy="269.23" r="1.55" fill="#cf595e"/>
<circle cx="150.82" cy="269.58" r="1.55" fill="#cf595e"/>
<circle cx="158.37" cy="270.93" r="1.55" fill="#cf595e"/>
<circle cx="161.80" cy="271.71" r="1.55" fill="#cf595e"/>
<circle cx="153.79" cy="272.24" r="1.55" fill="#cf595e"/>
<circle cx="164.53" cy="273.67" r="1.55" fill="#cf595e"/>
<circle cx="158.96" cy="275.21" r="1.55" fill="#cf595e"/>
<circle cx="154.96" cy="276.36" r="1.55" fill="#cf595e"/>
<circle cx="162.32" cy="276.45" r="1.55" fill="#cf595e"/>
<circle cx="165.34" cy="277.99" r="1.55" fill="#cf595e"/>
<circle cx="159.04" cy="279.44" r="1.55" fill="#cf595e"/>
<circle cx="155.52" cy="280.48" r="1.55" fill="#cf595e"/>
<circle cx="161.98" cy="281.02" r="1.55" fill="#cf595e"/>
<circle cx="151.98" cy="282.55" r="1.55" fill="#cf595e"/>
<circle cx="157.94" cy="283.53" r="1.55" fill="#cf595e"/>
<circle cx="160.69" cy="286.29" r="1.55" fill="#cf595e"/>
<circle cx="156.91" cy="288.06" r="1.55" fill="#cf595e"/>
<circle cx="159.41" cy="290.01" r="1.55" fill="#cf595e"/>
<circle cx="158.49" cy="293.33" r="1.55" fill="#cf595e"/>
<circle cx="161.23" cy="295.84" r="1.55" fill="#cf595e"/>
<circle cx="158.37" cy="299.42" r="1.55" fill="#cf595e"/>
<circle cx="160.60" cy="301.80" r="1.55" fill="#cf595e"/>
<circle cx="183.47" cy="254.99" r="1.55" fill="#5a8bd0"/>
<circle cx="183.02" cy="258.68" r="1.55" fill="#5a8bd0"/>
<circle cx="185.78" cy="261.02" r="1.55" fill="#5a8bd0"/>
<circle cx="183.38" cy="263.14" r="1.55" fill="#5a8bd0"/>
<circle cx="184.48" cy="266.46" r="1.55" fill="#5a8bd0"/>
<circle cx="180.60" cy="267.99" r="1.55" fill="#5a8bd0"/>
<circle cx="187.38" cy="269.04" r="1.55" fill="#5a8bd0"/>
<circle cx="183.41" cy="270.25" r="1.55" fill="#5a8bd0"/>
<circle cx="179.64" cy="271.63" r="1.55" fill="#5a8bd0"/>
<circle cx="188.52" cy="272.30" r="1.55" fill="#5a8bd0"/>
<circle cx="175.73" cy="272.52" r="1.55" fill="#5a8bd0"/>
<circle cx="185.07" cy="273.45" r="1.55" fill="#5a8bd0"/>
<circle cx="191.22" cy="273.50" r="1.55" fill="#5a8bd0"/>
<circle cx="181.77" cy="274.34" r="1.55" fill="#5a8bd0"/>
<circle cx="178.27" cy="274.50" r="1.55" fill="#5a8bd0"/>
<circle cx="187.72" cy="274.95" r="1.55" fill="#5a8bd0"/>
<circle cx="175.82" cy="275.69" r="1.55" fill="#5a8bd0"/>
<circle cx="184.22" cy="276.38" r="1.55" fill="#5a8bd0"/>
<circle cx="191.41" cy="277.02" r="1.55" fill="#5a8bd0"/>
<circle cx="180.02" cy="277.04" r="1.55" fill="#5a8bd0"/>
<circle cx="186.67" cy="277.16" r="1.55" fill="#5a8bd0"/>
<circle cx="177.22" cy="278.28" r="1.55" fill="#5a8bd0"/>
<circle cx="182.47" cy="279.08" r="1.55" fill="#5a8bd0"/>
<circle cx="188.93" cy="280.02" r="1.55" fill="#5a8bd0"/>
<circle cx="185.62" cy="280.36" r="1.55" fill="#5a8bd0"/>
<circle cx="179.67" cy="280.81" r="1.55" fill="#5a8bd0"/>
<circle cx="175.82" cy="281.16" r="1.55" fill="#5a8bd0"/>
<circle cx="191.22" cy="282.26" r="1.55" fill="#5a8bd0"/>
<circle cx="182.82" cy="282.48" r="1.55" fill="#5a8bd0"/>
<circle cx="187.72" cy="283.15" r="1.55" fill="#5a8bd0"/>
<circle cx="177.92" cy="283.76" r="1.55" fill="#5a8bd0"/>
<circle cx="180.72" cy="284.13" r="1.55" fill="#5a8bd0"/>
<circle cx="184.02" cy="285.93" r="1.55" fill="#5a8bd0"/>
<circle cx="187.36" cy="286.75" r="1.55" fill="#5a8bd0"/>
<circle cx="183.35" cy="289.57" r="1.55" fill="#5a8bd0"/>
<circle cx="186.53" cy="291.63" r="1.55" fill="#5a8bd0"/>
<circle cx="183.84" cy="293.70" r="1.55" fill="#5a8bd0"/>
<circle cx="183.11" cy="298.37" r="1.55" fill="#5a8bd0"/>
<circle cx="186.37" cy="300.43" r="1.55" fill="#5a8bd0"/>
<circle cx="183.95" cy="303.78" r="1.55" fill="#5a8bd0"/>
<line x1="149.92" y1="270.46" x2="167.12" y2="270.46" stroke="#7f7f7f" stroke-width="1.9"/>
<line x1="174.92" y1="276.37" x2="192.12" y2="276.37" stroke="#7f7f7f" stroke-width="1.9"/>
<path d="M139.32 221.62H142.12V308.53H200.42000000000002" fill="none" stroke="#000" stroke-width="1.35"/>
<line x1="139.32" y1="243.35" x2="142.12" y2="243.35" stroke="#000" stroke-width="1.35"/>
<line x1="139.32" y1="265.07" x2="142.12" y2="265.07" stroke="#000" stroke-width="1.35"/>
<line x1="139.32" y1="286.80" x2="142.12" y2="286.80" stroke="#000" stroke-width="1.35"/>
<line x1="158.52" y1="308.53" x2="158.52" y2="311.33" stroke="#000" stroke-width="1.35"/>
<line x1="183.52" y1="308.53" x2="183.52" y2="311.33" stroke="#000" stroke-width="1.35"/>
<text x="134.62" y="226.03" text-anchor="end" font-size="9.8">1.5</text>
<text x="134.62" y="247.75" text-anchor="end" font-size="9.8">1</text>
<text x="134.62" y="269.47" text-anchor="end" font-size="9.8">0.5</text>
<text x="134.62" y="291.20" text-anchor="end" font-size="9.8">0</text>
<text x="134.62" y="312.93" text-anchor="end" font-size="9.8">-0.5</text>
<path d="M158.52 233.68V229.88H183.52V233.68" fill="none" stroke="#000" stroke-width="1.5"/>
<text x="171.02" y="231.18" text-anchor="middle" font-size="12" font-weight="bold">*</text>
<text x="171.3" y="200" text-anchor="middle" font-size="11.2">Ventral</text>
<text x="171.3" y="212.8" text-anchor="middle" font-size="11.2">prefrontal cortex</text>
<rect x="244.84" y="272.90" width="17.2" height="13.90" fill="#e6e6e6"/>
<rect x="269.84" y="278.11" width="17.2" height="8.69" fill="#e6e6e6"/>
<line x1="239.14" y1="286.80" x2="293.84" y2="286.80" stroke="#000" stroke-width="1.9" stroke-dasharray="5.5 4.35"/>
<circle cx="252.96" cy="251.55" r="1.55" fill="#cf595e"/>
<circle cx="255.38" cy="254.18" r="1.55" fill="#cf595e"/>
<circle cx="252.88" cy="257.09" r="1.55" fill="#cf595e"/>
<circle cx="256.00" cy="257.52" r="1.55" fill="#cf595e"/>
<circle cx="249.99" cy="258.60" r="1.55" fill="#cf595e"/>
<circle cx="253.59" cy="260.58" r="1.55" fill="#cf595e"/>
<circle cx="257.77" cy="260.87" r="1.55" fill="#cf595e"/>
<circle cx="250.43" cy="262.64" r="1.55" fill="#cf595e"/>
<circle cx="254.72" cy="263.70" r="1.55" fill="#cf595e"/>
<circle cx="258.92" cy="264.46" r="1.55" fill="#cf595e"/>
<circle cx="248.70" cy="265.52" r="1.55" fill="#cf595e"/>
<circle cx="252.04" cy="265.92" r="1.55" fill="#cf595e"/>
<circle cx="245.74" cy="266.36" r="1.55" fill="#cf595e"/>
<circle cx="256.06" cy="267.26" r="1.55" fill="#cf595e"/>
<circle cx="259.14" cy="268.59" r="1.55" fill="#cf595e"/>
<circle cx="253.04" cy="269.66" r="1.55" fill="#cf595e"/>
<circle cx="249.41" cy="269.67" r="1.55" fill="#cf595e"/>
<circle cx="246.20" cy="270.97" r="1.55" fill="#cf595e"/>
<circle cx="256.32" cy="271.29" r="1.55" fill="#cf595e"/>
<circle cx="259.51" cy="272.36" r="1.55" fill="#cf595e"/>
<circle cx="251.18" cy="272.78" r="1.55" fill="#cf595e"/>
<circle cx="247.59" cy="274.19" r="1.55" fill="#cf595e"/>
<circle cx="253.59" cy="275.58" r="1.55" fill="#cf595e"/>
<circle cx="257.72" cy="276.28" r="1.55" fill="#cf595e"/>
<circle cx="250.62" cy="277.25" r="1.55" fill="#cf595e"/>
<circle cx="246.00" cy="277.38" r="1.55" fill="#cf595e"/>
<circle cx="259.88" cy="278.61" r="1.55" fill="#cf595e"/>
<circle cx="253.40" cy="279.15" r="1.55" fill="#cf595e"/>
<circle cx="248.75" cy="280.44" r="1.55" fill="#cf595e"/>
<circle cx="255.72" cy="281.75" r="1.55" fill="#cf595e"/>
<circle cx="261.14" cy="281.87" r="1.55" fill="#cf595e"/>
<circle cx="251.94" cy="282.82" r="1.55" fill="#cf595e"/>
<circle cx="257.63" cy="284.75" r="1.55" fill="#cf595e"/>
<circle cx="250.16" cy="285.45" r="1.55" fill="#cf595e"/>
<circle cx="253.15" cy="287.73" r="1.55" fill="#cf595e"/>
<circle cx="255.73" cy="290.43" r="1.55" fill="#cf595e"/>
<circle cx="251.96" cy="292.02" r="1.55" fill="#cf595e"/>
<circle cx="253.45" cy="295.69" r="1.55" fill="#cf595e"/>
<circle cx="256.03" cy="297.94" r="1.55" fill="#cf595e"/>
<circle cx="253.37" cy="300.35" r="1.55" fill="#cf595e"/>
<circle cx="278.36" cy="256.23" r="1.55" fill="#5a8bd0"/>
<circle cx="281.91" cy="258.01" r="1.55" fill="#5a8bd0"/>
<circle cx="278.55" cy="260.14" r="1.55" fill="#5a8bd0"/>
<circle cx="275.43" cy="261.10" r="1.55" fill="#5a8bd0"/>
<circle cx="281.81" cy="262.40" r="1.55" fill="#5a8bd0"/>
<circle cx="278.01" cy="264.43" r="1.55" fill="#5a8bd0"/>
<circle cx="274.77" cy="265.51" r="1.55" fill="#5a8bd0"/>
<circle cx="278.69" cy="268.04" r="1.55" fill="#5a8bd0"/>
<circle cx="275.63" cy="269.96" r="1.55" fill="#5a8bd0"/>
<circle cx="280.95" cy="270.97" r="1.55" fill="#5a8bd0"/>
<circle cx="278.60" cy="273.22" r="1.55" fill="#5a8bd0"/>
<circle cx="275.49" cy="273.96" r="1.55" fill="#5a8bd0"/>
<circle cx="282.78" cy="274.29" r="1.55" fill="#5a8bd0"/>
<circle cx="271.20" cy="274.39" r="1.55" fill="#5a8bd0"/>
<circle cx="286.14" cy="274.47" r="1.55" fill="#5a8bd0"/>
<circle cx="280.19" cy="274.94" r="1.55" fill="#5a8bd0"/>
<circle cx="273.54" cy="275.78" r="1.55" fill="#5a8bd0"/>
<circle cx="277.20" cy="277.05" r="1.55" fill="#5a8bd0"/>
<circle cx="284.39" cy="277.18" r="1.55" fill="#5a8bd0"/>
<circle cx="270.74" cy="277.59" r="1.55" fill="#5a8bd0"/>
<circle cx="281.00" cy="278.54" r="1.55" fill="#5a8bd0"/>
<circle cx="274.24" cy="278.99" r="1.55" fill="#5a8bd0"/>
<circle cx="286.44" cy="280.24" r="1.55" fill="#5a8bd0"/>
<circle cx="278.58" cy="280.85" r="1.55" fill="#5a8bd0"/>
<circle cx="271.09" cy="281.30" r="1.55" fill="#5a8bd0"/>
<circle cx="282.49" cy="281.70" r="1.55" fill="#5a8bd0"/>
<circle cx="275.06" cy="283.00" r="1.55" fill="#5a8bd0"/>
<circle cx="285.44" cy="283.50" r="1.55" fill="#5a8bd0"/>
<circle cx="279.84" cy="283.80" r="1.55" fill="#5a8bd0"/>
<circle cx="272.73" cy="285.45" r="1.55" fill="#5a8bd0"/>
<circle cx="277.93" cy="286.43" r="1.55" fill="#5a8bd0"/>
<circle cx="281.62" cy="287.59" r="1.55" fill="#5a8bd0"/>
<circle cx="275.93" cy="289.47" r="1.55" fill="#5a8bd0"/>
<circle cx="283.99" cy="290.24" r="1.55" fill="#5a8bd0"/>
<circle cx="278.40" cy="291.70" r="1.55" fill="#5a8bd0"/>
<circle cx="282.04" cy="293.67" r="1.55" fill="#5a8bd0"/>
<circle cx="278.57" cy="296.42" r="1.55" fill="#5a8bd0"/>
<circle cx="275.69" cy="297.89" r="1.55" fill="#5a8bd0"/>
<circle cx="279.37" cy="300.04" r="1.55" fill="#5a8bd0"/>
<circle cx="276.68" cy="301.81" r="1.55" fill="#5a8bd0"/>
<line x1="244.84" y1="272.90" x2="262.04" y2="272.90" stroke="#7f7f7f" stroke-width="1.9"/>
<line x1="269.84" y1="278.11" x2="287.04" y2="278.11" stroke="#7f7f7f" stroke-width="1.9"/>
<path d="M234.24 221.62H237.04000000000002V308.53H295.34000000000003" fill="none" stroke="#000" stroke-width="1.35"/>
<line x1="234.24" y1="243.35" x2="237.04000000000002" y2="243.35" stroke="#000" stroke-width="1.35"/>
<line x1="234.24" y1="265.07" x2="237.04000000000002" y2="265.07" stroke="#000" stroke-width="1.35"/>
<line x1="234.24" y1="286.80" x2="237.04000000000002" y2="286.80" stroke="#000" stroke-width="1.35"/>
<line x1="253.44" y1="308.53" x2="253.44" y2="311.33" stroke="#000" stroke-width="1.35"/>
<line x1="278.44" y1="308.53" x2="278.44" y2="311.33" stroke="#000" stroke-width="1.35"/>
<text x="229.54" y="226.03" text-anchor="end" font-size="9.8">1.5</text>
<text x="229.54" y="247.75" text-anchor="end" font-size="9.8">1</text>
<text x="229.54" y="269.47" text-anchor="end" font-size="9.8">0.5</text>
<text x="229.54" y="291.20" text-anchor="end" font-size="9.8">0</text>
<text x="229.54" y="312.93" text-anchor="end" font-size="9.8">-0.5</text>
<path d="M253.44 233.68V229.88H278.44V233.68" fill="none" stroke="#000" stroke-width="1.5"/>
<text x="265.94" y="231.18" text-anchor="middle" font-size="12" font-weight="bold">*</text>
<text x="265.5" y="200" text-anchor="middle" font-size="11.2">Lateral</text>
<text x="265.5" y="212.8" text-anchor="middle" font-size="11.2">prefrontal cortex</text>
<rect x="339.76" y="268.12" width="17.2" height="18.68" fill="#e6e6e6"/>
<rect x="364.76" y="273.33" width="17.2" height="13.47" fill="#e6e6e6"/>
<line x1="334.06" y1="286.80" x2="388.76" y2="286.80" stroke="#000" stroke-width="1.9" stroke-dasharray="5.5 4.35"/>
<circle cx="347.78" cy="248.46" r="1.55" fill="#cf595e"/>
<circle cx="350.56" cy="249.48" r="1.55" fill="#cf595e"/>
<circle cx="344.76" cy="250.47" r="1.55" fill="#cf595e"/>
<circle cx="353.37" cy="251.66" r="1.55" fill="#cf595e"/>
<circle cx="348.92" cy="253.69" r="1.55" fill="#cf595e"/>
<circle cx="345.25" cy="254.43" r="1.55" fill="#cf595e"/>
<circle cx="351.82" cy="255.14" r="1.55" fill="#cf595e"/>
<circle cx="341.93" cy="256.33" r="1.55" fill="#cf595e"/>
<circle cx="347.95" cy="257.13" r="1.55" fill="#cf595e"/>
<circle cx="353.73" cy="258.26" r="1.55" fill="#cf595e"/>
<circle cx="345.21" cy="258.82" r="1.55" fill="#cf595e"/>
<circle cx="349.22" cy="260.32" r="1.55" fill="#cf595e"/>
<circle cx="342.84" cy="261.24" r="1.55" fill="#cf595e"/>
<circle cx="347.14" cy="262.73" r="1.55" fill="#cf595e"/>
<circle cx="350.83" cy="263.37" r="1.55" fill="#cf595e"/>
<circle cx="354.70" cy="264.37" r="1.55" fill="#cf595e"/>
<circle cx="344.91" cy="265.46" r="1.55" fill="#cf595e"/>
<circle cx="341.95" cy="265.77" r="1.55" fill="#cf595e"/>
<circle cx="347.89" cy="267.36" r="1.55" fill="#cf595e"/>
<circle cx="352.03" cy="268.10" r="1.55" fill="#cf595e"/>
<circle cx="355.73" cy="268.45" r="1.55" fill="#cf595e"/>
<circle cx="344.84" cy="269.38" r="1.55" fill="#cf595e"/>
<circle cx="341.54" cy="269.95" r="1.55" fill="#cf595e"/>
<circle cx="348.43" cy="270.91" r="1.55" fill="#cf595e"/>
<circle cx="351.22" cy="273.11" r="1.55" fill="#cf595e"/>
<circle cx="345.05" cy="273.24" r="1.55" fill="#cf595e"/>
<circle cx="354.31" cy="274.07" r="1.55" fill="#cf595e"/>
<circle cx="348.11" cy="275.98" r="1.55" fill="#cf595e"/>
<circle cx="352.41" cy="276.74" r="1.55" fill="#cf595e"/>
<circle cx="344.96" cy="278.10" r="1.55" fill="#cf595e"/>
<circle cx="341.89" cy="278.27" r="1.55" fill="#cf595e"/>
<circle cx="348.66" cy="279.57" r="1.55" fill="#cf595e"/>
<circle cx="352.24" cy="280.81" r="1.55" fill="#cf595e"/>
<circle cx="346.44" cy="282.32" r="1.55" fill="#cf595e"/>
<circle cx="342.92" cy="282.88" r="1.55" fill="#cf595e"/>
<circle cx="349.28" cy="284.07" r="1.55" fill="#cf595e"/>
<circle cx="345.83" cy="286.08" r="1.55" fill="#cf595e"/>
<circle cx="348.52" cy="288.31" r="1.55" fill="#cf595e"/>
<circle cx="346.87" cy="291.39" r="1.55" fill="#cf595e"/>
<circle cx="349.96" cy="293.92" r="1.55" fill="#cf595e"/>
<circle cx="373.44" cy="252.28" r="1.55" fill="#5a8bd0"/>
<circle cx="373.01" cy="257.03" r="1.55" fill="#5a8bd0"/>
<circle cx="375.46" cy="259.61" r="1.55" fill="#5a8bd0"/>
<circle cx="371.01" cy="259.71" r="1.55" fill="#5a8bd0"/>
<circle cx="378.18" cy="261.35" r="1.55" fill="#5a8bd0"/>
<circle cx="368.12" cy="261.69" r="1.55" fill="#5a8bd0"/>
<circle cx="373.52" cy="263.04" r="1.55" fill="#5a8bd0"/>
<circle cx="380.77" cy="264.21" r="1.55" fill="#5a8bd0"/>
<circle cx="369.87" cy="264.70" r="1.55" fill="#5a8bd0"/>
<circle cx="375.95" cy="265.62" r="1.55" fill="#5a8bd0"/>
<circle cx="366.11" cy="265.91" r="1.55" fill="#5a8bd0"/>
<circle cx="372.66" cy="266.36" r="1.55" fill="#5a8bd0"/>
<circle cx="370.05" cy="268.32" r="1.55" fill="#5a8bd0"/>
<circle cx="378.09" cy="268.58" r="1.55" fill="#5a8bd0"/>
<circle cx="374.76" cy="268.84" r="1.55" fill="#5a8bd0"/>
<circle cx="367.29" cy="270.75" r="1.55" fill="#5a8bd0"/>
<circle cx="371.59" cy="271.33" r="1.55" fill="#5a8bd0"/>
<circle cx="380.07" cy="271.60" r="1.55" fill="#5a8bd0"/>
<circle cx="374.91" cy="272.69" r="1.55" fill="#5a8bd0"/>
<circle cx="369.16" cy="273.58" r="1.55" fill="#5a8bd0"/>
<circle cx="366.05" cy="273.99" r="1.55" fill="#5a8bd0"/>
<circle cx="373.60" cy="275.68" r="1.55" fill="#5a8bd0"/>
<circle cx="376.89" cy="275.72" r="1.55" fill="#5a8bd0"/>
<circle cx="370.31" cy="277.43" r="1.55" fill="#5a8bd0"/>
<circle cx="380.33" cy="277.60" r="1.55" fill="#5a8bd0"/>
<circle cx="373.37" cy="279.33" r="1.55" fill="#5a8bd0"/>
<circle cx="376.59" cy="279.90" r="1.55" fill="#5a8bd0"/>
<circle cx="369.76" cy="281.21" r="1.55" fill="#5a8bd0"/>
<circle cx="380.09" cy="281.47" r="1.55" fill="#5a8bd0"/>
<circle cx="365.99" cy="282.53" r="1.55" fill="#5a8bd0"/>
<circle cx="373.47" cy="283.41" r="1.55" fill="#5a8bd0"/>
<circle cx="377.34" cy="284.22" r="1.55" fill="#5a8bd0"/>
<circle cx="370.78" cy="285.00" r="1.55" fill="#5a8bd0"/>
<circle cx="367.57" cy="286.63" r="1.55" fill="#5a8bd0"/>
<circle cx="373.23" cy="288.13" r="1.55" fill="#5a8bd0"/>
<circle cx="375.39" cy="290.93" r="1.55" fill="#5a8bd0"/>
<circle cx="372.07" cy="293.09" r="1.55" fill="#5a8bd0"/>
<circle cx="374.89" cy="295.95" r="1.55" fill="#5a8bd0"/>
<circle cx="373.08" cy="299.82" r="1.55" fill="#5a8bd0"/>
<circle cx="376.39" cy="301.96" r="1.55" fill="#5a8bd0"/>
<line x1="339.76" y1="268.12" x2="356.96" y2="268.12" stroke="#7f7f7f" stroke-width="1.9"/>
<line x1="364.76" y1="273.33" x2="381.96" y2="273.33" stroke="#7f7f7f" stroke-width="1.9"/>
<path d="M329.15999999999997 221.62H331.96V308.53H390.26" fill="none" stroke="#000" stroke-width="1.35"/>
<line x1="329.15999999999997" y1="243.35" x2="331.96" y2="243.35" stroke="#000" stroke-width="1.35"/>
<line x1="329.15999999999997" y1="265.07" x2="331.96" y2="265.07" stroke="#000" stroke-width="1.35"/>
<line x1="329.15999999999997" y1="286.80" x2="331.96" y2="286.80" stroke="#000" stroke-width="1.35"/>
<line x1="348.36" y1="308.53" x2="348.36" y2="311.33" stroke="#000" stroke-width="1.35"/>
<line x1="373.36" y1="308.53" x2="373.36" y2="311.33" stroke="#000" stroke-width="1.35"/>
<text x="324.46" y="226.03" text-anchor="end" font-size="9.8">1.5</text>
<text x="324.46" y="247.75" text-anchor="end" font-size="9.8">1</text>
<text x="324.46" y="269.47" text-anchor="end" font-size="9.8">0.5</text>
<text x="324.46" y="291.20" text-anchor="end" font-size="9.8">0</text>
<text x="324.46" y="312.93" text-anchor="end" font-size="9.8">-0.5</text>
<path d="M348.36 233.68V229.88H373.36V233.68" fill="none" stroke="#000" stroke-width="1.5"/>
<text x="360.86" y="231.18" text-anchor="middle" font-size="12" font-weight="bold">*</text>
<text x="361.3" y="203.70000000000002" text-anchor="middle" font-size="11.2">Insula<tspan font-size="8" dy="2" fill="#666">L</tspan></text>
<rect x="434.68" y="262.90" width="17.2" height="23.90" fill="#e6e6e6"/>
<rect x="459.68" y="268.12" width="17.2" height="18.68" fill="#e6e6e6"/>
<line x1="428.98" y1="286.80" x2="483.68" y2="286.80" stroke="#000" stroke-width="1.9" stroke-dasharray="5.5 4.35"/>
<circle cx="443.13" cy="244.46" r="1.55" fill="#cf595e"/>
<circle cx="446.37" cy="245.92" r="1.55" fill="#cf595e"/>
<circle cx="443.11" cy="248.01" r="1.55" fill="#cf595e"/>
<circle cx="446.94" cy="249.83" r="1.55" fill="#cf595e"/>
<circle cx="443.61" cy="252.10" r="1.55" fill="#cf595e"/>
<circle cx="439.89" cy="252.72" r="1.55" fill="#cf595e"/>
<circle cx="446.85" cy="253.43" r="1.55" fill="#cf595e"/>
<circle cx="436.33" cy="254.39" r="1.55" fill="#cf595e"/>
<circle cx="450.48" cy="255.17" r="1.55" fill="#cf595e"/>
<circle cx="443.25" cy="255.87" r="1.55" fill="#cf595e"/>
<circle cx="440.33" cy="256.49" r="1.55" fill="#cf595e"/>
<circle cx="446.23" cy="257.71" r="1.55" fill="#cf595e"/>
<circle cx="437.54" cy="257.97" r="1.55" fill="#cf595e"/>
<circle cx="450.16" cy="259.23" r="1.55" fill="#cf595e"/>
<circle cx="442.91" cy="259.34" r="1.55" fill="#cf595e"/>
<circle cx="439.78" cy="259.63" r="1.55" fill="#cf595e"/>
<circle cx="435.58" cy="260.49" r="1.55" fill="#cf595e"/>
<circle cx="447.13" cy="260.98" r="1.55" fill="#cf595e"/>
<circle cx="444.33" cy="261.61" r="1.55" fill="#cf595e"/>
<circle cx="450.98" cy="262.20" r="1.55" fill="#cf595e"/>
<circle cx="438.38" cy="262.77" r="1.55" fill="#cf595e"/>
<circle cx="442.28" cy="264.42" r="1.55" fill="#cf595e"/>
<circle cx="445.52" cy="264.96" r="1.55" fill="#cf595e"/>
<circle cx="449.14" cy="265.94" r="1.55" fill="#cf595e"/>
<circle cx="437.54" cy="266.01" r="1.55" fill="#cf595e"/>
<circle cx="440.48" cy="266.35" r="1.55" fill="#cf595e"/>
<circle cx="443.63" cy="267.58" r="1.55" fill="#cf595e"/>
<circle cx="446.78" cy="268.47" r="1.55" fill="#cf595e"/>
<circle cx="439.21" cy="269.39" r="1.55" fill="#cf595e"/>
<circle cx="450.78" cy="269.90" r="1.55" fill="#cf595e"/>
<circle cx="443.69" cy="271.34" r="1.55" fill="#cf595e"/>
<circle cx="436.62" cy="271.48" r="1.55" fill="#cf595e"/>
<circle cx="440.78" cy="273.06" r="1.55" fill="#cf595e"/>
<circle cx="445.54" cy="274.09" r="1.55" fill="#cf595e"/>
<circle cx="437.51" cy="274.90" r="1.55" fill="#cf595e"/>
<circle cx="449.05" cy="275.89" r="1.55" fill="#cf595e"/>
<circle cx="443.14" cy="276.30" r="1.55" fill="#cf595e"/>
<circle cx="440.42" cy="278.14" r="1.55" fill="#cf595e"/>
<circle cx="443.94" cy="279.77" r="1.55" fill="#cf595e"/>
<circle cx="440.69" cy="281.95" r="1.55" fill="#cf595e"/>
<circle cx="467.84" cy="254.12" r="1.55" fill="#5a8bd0"/>
<circle cx="471.08" cy="255.36" r="1.55" fill="#5a8bd0"/>
<circle cx="465.06" cy="256.13" r="1.55" fill="#5a8bd0"/>
<circle cx="473.67" cy="257.37" r="1.55" fill="#5a8bd0"/>
<circle cx="468.87" cy="258.76" r="1.55" fill="#5a8bd0"/>
<circle cx="462.68" cy="258.77" r="1.55" fill="#5a8bd0"/>
<circle cx="465.83" cy="259.30" r="1.55" fill="#5a8bd0"/>
<circle cx="475.36" cy="260.41" r="1.55" fill="#5a8bd0"/>
<circle cx="471.04" cy="261.40" r="1.55" fill="#5a8bd0"/>
<circle cx="460.58" cy="261.45" r="1.55" fill="#5a8bd0"/>
<circle cx="467.15" cy="262.56" r="1.55" fill="#5a8bd0"/>
<circle cx="463.73" cy="262.83" r="1.55" fill="#5a8bd0"/>
<circle cx="473.05" cy="264.05" r="1.55" fill="#5a8bd0"/>
<circle cx="469.68" cy="264.68" r="1.55" fill="#5a8bd0"/>
<circle cx="460.93" cy="264.83" r="1.55" fill="#5a8bd0"/>
<circle cx="475.98" cy="265.38" r="1.55" fill="#5a8bd0"/>
<circle cx="465.83" cy="265.59" r="1.55" fill="#5a8bd0"/>
<circle cx="471.78" cy="266.32" r="1.55" fill="#5a8bd0"/>
<circle cx="463.03" cy="266.49" r="1.55" fill="#5a8bd0"/>
<circle cx="468.28" cy="266.94" r="1.55" fill="#5a8bd0"/>
<circle cx="474.58" cy="268.03" r="1.55" fill="#5a8bd0"/>
<circle cx="460.58" cy="268.05" r="1.55" fill="#5a8bd0"/>
<circle cx="465.48" cy="268.48" r="1.55" fill="#5a8bd0"/>
<circle cx="470.79" cy="269.84" r="1.55" fill="#5a8bd0"/>
<circle cx="462.68" cy="270.31" r="1.55" fill="#5a8bd0"/>
<circle cx="467.93" cy="270.37" r="1.55" fill="#5a8bd0"/>
<circle cx="474.26" cy="271.84" r="1.55" fill="#5a8bd0"/>
<circle cx="465.13" cy="272.63" r="1.55" fill="#5a8bd0"/>
<circle cx="460.58" cy="272.72" r="1.55" fill="#5a8bd0"/>
<circle cx="468.08" cy="274.47" r="1.55" fill="#5a8bd0"/>
<circle cx="471.73" cy="275.34" r="1.55" fill="#5a8bd0"/>
<circle cx="465.49" cy="277.09" r="1.55" fill="#5a8bd0"/>
<circle cx="469.21" cy="277.88" r="1.55" fill="#5a8bd0"/>
<circle cx="472.65" cy="279.03" r="1.55" fill="#5a8bd0"/>
<circle cx="466.86" cy="280.90" r="1.55" fill="#5a8bd0"/>
<circle cx="470.88" cy="282.13" r="1.55" fill="#5a8bd0"/>
<circle cx="463.56" cy="283.24" r="1.55" fill="#5a8bd0"/>
<circle cx="468.19" cy="286.33" r="1.55" fill="#5a8bd0"/>
<circle cx="469.96" cy="289.14" r="1.55" fill="#5a8bd0"/>
<circle cx="467.78" cy="294.26" r="1.55" fill="#5a8bd0"/>
<line x1="434.68" y1="262.90" x2="451.88" y2="262.90" stroke="#7f7f7f" stroke-width="1.9"/>
<line x1="459.68" y1="268.12" x2="476.88" y2="268.12" stroke="#7f7f7f" stroke-width="1.9"/>
<path d="M424.08 221.62H426.88V308.53H485.18" fill="none" stroke="#000" stroke-width="1.35"/>
<line x1="424.08" y1="243.35" x2="426.88" y2="243.35" stroke="#000" stroke-width="1.35"/>
<line x1="424.08" y1="265.07" x2="426.88" y2="265.07" stroke="#000" stroke-width="1.35"/>
<line x1="424.08" y1="286.80" x2="426.88" y2="286.80" stroke="#000" stroke-width="1.35"/>
<line x1="443.28" y1="308.53" x2="443.28" y2="311.33" stroke="#000" stroke-width="1.35"/>
<line x1="468.28" y1="308.53" x2="468.28" y2="311.33" stroke="#000" stroke-width="1.35"/>
<text x="419.38" y="226.03" text-anchor="end" font-size="9.8">1.5</text>
<text x="419.38" y="247.75" text-anchor="end" font-size="9.8">1</text>
<text x="419.38" y="269.47" text-anchor="end" font-size="9.8">0.5</text>
<text x="419.38" y="291.20" text-anchor="end" font-size="9.8">0</text>
<text x="419.38" y="312.93" text-anchor="end" font-size="9.8">-0.5</text>
<path d="M443.28 233.68V229.88H468.28V233.68" fill="none" stroke="#000" stroke-width="1.5"/>
<text x="455.78" y="231.18" text-anchor="middle" font-size="12" font-weight="bold">*</text>
<text x="456.1" y="203.70000000000002" text-anchor="middle" font-size="11.2">Insula<tspan font-size="8" dy="2" fill="#333">R</tspan></text>
<rect x="529.60" y="258.56" width="17.2" height="28.24" fill="#e6e6e6"/>
<rect x="554.60" y="262.03" width="17.2" height="24.77" fill="#e6e6e6"/>
<line x1="523.90" y1="286.80" x2="578.60" y2="286.80" stroke="#000" stroke-width="1.9" stroke-dasharray="5.5 4.35"/>
<circle cx="537.79" cy="248.26" r="1.55" fill="#cf595e"/>
<circle cx="541.00" cy="249.81" r="1.55" fill="#cf595e"/>
<circle cx="535.26" cy="250.39" r="1.55" fill="#cf595e"/>
<circle cx="544.49" cy="250.43" r="1.55" fill="#cf595e"/>
<circle cx="531.30" cy="251.09" r="1.55" fill="#cf595e"/>
<circle cx="538.20" cy="251.45" r="1.55" fill="#cf595e"/>
<circle cx="542.40" cy="251.56" r="1.55" fill="#cf595e"/>
<circle cx="533.65" cy="252.16" r="1.55" fill="#cf595e"/>
<circle cx="545.90" cy="253.21" r="1.55" fill="#cf595e"/>
<circle cx="540.30" cy="253.25" r="1.55" fill="#cf595e"/>
<circle cx="536.10" cy="253.26" r="1.55" fill="#cf595e"/>
<circle cx="530.50" cy="254.09" r="1.55" fill="#cf595e"/>
<circle cx="543.10" cy="254.72" r="1.55" fill="#cf595e"/>
<circle cx="533.30" cy="254.82" r="1.55" fill="#cf595e"/>
<circle cx="538.20" cy="255.73" r="1.55" fill="#cf595e"/>
<circle cx="545.55" cy="255.81" r="1.55" fill="#cf595e"/>
<circle cx="541.00" cy="256.04" r="1.55" fill="#cf595e"/>
<circle cx="535.40" cy="256.52" r="1.55" fill="#cf595e"/>
<circle cx="531.20" cy="256.70" r="1.55" fill="#cf595e"/>
<circle cx="543.45" cy="256.70" r="1.55" fill="#cf595e"/>
<circle cx="533.30" cy="257.71" r="1.55" fill="#cf595e"/>
<circle cx="539.25" cy="257.90" r="1.55" fill="#cf595e"/>
<circle cx="545.90" cy="258.18" r="1.55" fill="#cf595e"/>
<circle cx="541.70" cy="258.76" r="1.55" fill="#cf595e"/>
<circle cx="536.16" cy="260.15" r="1.55" fill="#cf595e"/>
<circle cx="531.10" cy="260.67" r="1.55" fill="#cf595e"/>
<circle cx="544.15" cy="261.21" r="1.55" fill="#cf595e"/>
<circle cx="539.25" cy="261.22" r="1.55" fill="#cf595e"/>
<circle cx="534.00" cy="262.27" r="1.55" fill="#cf595e"/>
<circle cx="541.70" cy="262.96" r="1.55" fill="#cf595e"/>
<circle cx="536.80" cy="262.96" r="1.55" fill="#cf595e"/>
<circle cx="545.24" cy="264.57" r="1.55" fill="#cf595e"/>
<circle cx="538.38" cy="266.22" r="1.55" fill="#cf595e"/>
<circle cx="535.32" cy="267.38" r="1.55" fill="#cf595e"/>
<circle cx="538.31" cy="269.92" r="1.55" fill="#cf595e"/>
<circle cx="542.24" cy="270.26" r="1.55" fill="#cf595e"/>
<circle cx="537.23" cy="273.36" r="1.55" fill="#cf595e"/>
<circle cx="540.37" cy="274.62" r="1.55" fill="#cf595e"/>
<circle cx="537.84" cy="277.44" r="1.55" fill="#cf595e"/>
<circle cx="541.66" cy="277.94" r="1.55" fill="#cf595e"/>
<circle cx="562.62" cy="250.43" r="1.55" fill="#5a8bd0"/>
<circle cx="565.54" cy="252.28" r="1.55" fill="#5a8bd0"/>
<circle cx="559.96" cy="253.24" r="1.55" fill="#5a8bd0"/>
<circle cx="568.99" cy="253.62" r="1.55" fill="#5a8bd0"/>
<circle cx="557.12" cy="254.29" r="1.55" fill="#5a8bd0"/>
<circle cx="563.20" cy="254.83" r="1.55" fill="#5a8bd0"/>
<circle cx="566.10" cy="256.76" r="1.55" fill="#5a8bd0"/>
<circle cx="559.93" cy="256.85" r="1.55" fill="#5a8bd0"/>
<circle cx="570.23" cy="257.16" r="1.55" fill="#5a8bd0"/>
<circle cx="556.06" cy="257.61" r="1.55" fill="#5a8bd0"/>
<circle cx="563.20" cy="258.26" r="1.55" fill="#5a8bd0"/>
<circle cx="568.10" cy="258.51" r="1.55" fill="#5a8bd0"/>
<circle cx="558.30" cy="258.72" r="1.55" fill="#5a8bd0"/>
<circle cx="565.65" cy="259.56" r="1.55" fill="#5a8bd0"/>
<circle cx="570.90" cy="259.86" r="1.55" fill="#5a8bd0"/>
<circle cx="561.10" cy="260.33" r="1.55" fill="#5a8bd0"/>
<circle cx="555.50" cy="260.53" r="1.55" fill="#5a8bd0"/>
<circle cx="563.55" cy="260.60" r="1.55" fill="#5a8bd0"/>
<circle cx="568.45" cy="261.11" r="1.55" fill="#5a8bd0"/>
<circle cx="558.30" cy="261.60" r="1.55" fill="#5a8bd0"/>
<circle cx="566.00" cy="261.85" r="1.55" fill="#5a8bd0"/>
<circle cx="570.55" cy="262.03" r="1.55" fill="#5a8bd0"/>
<circle cx="562.15" cy="262.17" r="1.55" fill="#5a8bd0"/>
<circle cx="556.20" cy="262.96" r="1.55" fill="#5a8bd0"/>
<circle cx="560.05" cy="263.44" r="1.55" fill="#5a8bd0"/>
<circle cx="568.10" cy="263.61" r="1.55" fill="#5a8bd0"/>
<circle cx="564.25" cy="264.54" r="1.55" fill="#5a8bd0"/>
<circle cx="570.90" cy="264.67" r="1.55" fill="#5a8bd0"/>
<circle cx="557.60" cy="265.76" r="1.55" fill="#5a8bd0"/>
<circle cx="561.45" cy="265.94" r="1.55" fill="#5a8bd0"/>
<circle cx="566.70" cy="266.62" r="1.55" fill="#5a8bd0"/>
<circle cx="569.85" cy="267.83" r="1.55" fill="#5a8bd0"/>
<circle cx="563.90" cy="267.84" r="1.55" fill="#5a8bd0"/>
<circle cx="559.90" cy="269.17" r="1.55" fill="#5a8bd0"/>
<circle cx="556.28" cy="269.48" r="1.55" fill="#5a8bd0"/>
<circle cx="566.55" cy="270.63" r="1.55" fill="#5a8bd0"/>
<circle cx="562.48" cy="271.41" r="1.55" fill="#5a8bd0"/>
<circle cx="558.64" cy="272.46" r="1.55" fill="#5a8bd0"/>
<circle cx="569.10" cy="273.46" r="1.55" fill="#5a8bd0"/>
<circle cx="564.09" cy="274.71" r="1.55" fill="#5a8bd0"/>
<line x1="529.60" y1="258.56" x2="546.80" y2="258.56" stroke="#7f7f7f" stroke-width="1.9"/>
<line x1="554.60" y1="262.03" x2="571.80" y2="262.03" stroke="#7f7f7f" stroke-width="1.9"/>
<path d="M519.0000000000001 221.62H521.8000000000001V308.53H580.1" fill="none" stroke="#000" stroke-width="1.35"/>
<line x1="519.0000000000001" y1="243.35" x2="521.8000000000001" y2="243.35" stroke="#000" stroke-width="1.35"/>
<line x1="519.0000000000001" y1="265.07" x2="521.8000000000001" y2="265.07" stroke="#000" stroke-width="1.35"/>
<line x1="519.0000000000001" y1="286.80" x2="521.8000000000001" y2="286.80" stroke="#000" stroke-width="1.35"/>
<line x1="538.20" y1="308.53" x2="538.20" y2="311.33" stroke="#000" stroke-width="1.35"/>
<line x1="563.20" y1="308.53" x2="563.20" y2="311.33" stroke="#000" stroke-width="1.35"/>
<text x="514.30" y="226.03" text-anchor="end" font-size="9.8">1.5</text>
<text x="514.30" y="247.75" text-anchor="end" font-size="9.8">1</text>
<text x="514.30" y="269.47" text-anchor="end" font-size="9.8">0.5</text>
<text x="514.30" y="291.20" text-anchor="end" font-size="9.8">0</text>
<text x="514.30" y="312.93" text-anchor="end" font-size="9.8">-0.5</text>
<path d="M538.20 233.68V229.88H563.20V233.68" fill="none" stroke="#000" stroke-width="1.5"/>
<text x="550.70" y="231.18" text-anchor="middle" font-size="12" font-weight="bold">*</text>
<text x="551.0" y="200" text-anchor="middle" font-size="11.2">Vental</text>
<text x="551.0" y="212.8" text-anchor="middle" font-size="11.2">prefrontal cortex</text>
<rect x="624.52" y="268.12" width="17.2" height="18.68" fill="#e6e6e6"/>
<rect x="649.52" y="273.33" width="17.2" height="13.47" fill="#e6e6e6"/>
<line x1="618.82" y1="286.80" x2="673.52" y2="286.80" stroke="#000" stroke-width="1.9" stroke-dasharray="5.5 4.35"/>
<circle cx="632.99" cy="249.22" r="1.55" fill="#cf595e"/>
<circle cx="636.36" cy="251.53" r="1.55" fill="#cf595e"/>
<circle cx="631.30" cy="252.20" r="1.55" fill="#cf595e"/>
<circle cx="628.63" cy="254.18" r="1.55" fill="#cf595e"/>
<circle cx="633.71" cy="255.49" r="1.55" fill="#cf595e"/>
<circle cx="636.46" cy="256.77" r="1.55" fill="#cf595e"/>
<circle cx="626.96" cy="257.12" r="1.55" fill="#cf595e"/>
<circle cx="631.48" cy="258.21" r="1.55" fill="#cf595e"/>
<circle cx="639.24" cy="258.36" r="1.55" fill="#cf595e"/>
<circle cx="634.72" cy="260.24" r="1.55" fill="#cf595e"/>
<circle cx="629.40" cy="260.71" r="1.55" fill="#cf595e"/>
<circle cx="625.29" cy="261.04" r="1.55" fill="#cf595e"/>
<circle cx="640.80" cy="261.59" r="1.55" fill="#cf595e"/>
<circle cx="632.57" cy="263.01" r="1.55" fill="#cf595e"/>
<circle cx="635.64" cy="264.42" r="1.55" fill="#cf595e"/>
<circle cx="629.67" cy="264.43" r="1.55" fill="#cf595e"/>
<circle cx="638.86" cy="265.92" r="1.55" fill="#cf595e"/>
<circle cx="632.52" cy="266.71" r="1.55" fill="#cf595e"/>
<circle cx="635.58" cy="268.41" r="1.55" fill="#cf595e"/>
<circle cx="628.73" cy="268.44" r="1.55" fill="#cf595e"/>
<circle cx="639.17" cy="269.50" r="1.55" fill="#cf595e"/>
<circle cx="633.25" cy="271.21" r="1.55" fill="#cf595e"/>
<circle cx="627.26" cy="271.46" r="1.55" fill="#cf595e"/>
<circle cx="636.11" cy="272.97" r="1.55" fill="#cf595e"/>
<circle cx="630.05" cy="273.24" r="1.55" fill="#cf595e"/>
<circle cx="639.53" cy="274.35" r="1.55" fill="#cf595e"/>
<circle cx="633.46" cy="276.01" r="1.55" fill="#cf595e"/>
<circle cx="630.41" cy="276.75" r="1.55" fill="#cf595e"/>
<circle cx="636.89" cy="277.99" r="1.55" fill="#cf595e"/>
<circle cx="627.50" cy="278.19" r="1.55" fill="#cf595e"/>
<circle cx="632.86" cy="279.50" r="1.55" fill="#cf595e"/>
<circle cx="639.32" cy="280.81" r="1.55" fill="#cf595e"/>
<circle cx="630.18" cy="281.55" r="1.55" fill="#cf595e"/>
<circle cx="635.90" cy="281.68" r="1.55" fill="#cf595e"/>
<circle cx="625.88" cy="282.47" r="1.55" fill="#cf595e"/>
<circle cx="633.12" cy="283.51" r="1.55" fill="#cf595e"/>
<circle cx="636.15" cy="285.89" r="1.55" fill="#cf595e"/>
<circle cx="632.20" cy="286.78" r="1.55" fill="#cf595e"/>
<circle cx="628.87" cy="289.09" r="1.55" fill="#cf595e"/>
<circle cx="633.25" cy="294.62" r="1.55" fill="#cf595e"/>
<circle cx="657.72" cy="260.74" r="1.55" fill="#5a8bd0"/>
<circle cx="660.82" cy="260.80" r="1.55" fill="#5a8bd0"/>
<circle cx="654.08" cy="262.27" r="1.55" fill="#5a8bd0"/>
<circle cx="662.76" cy="263.60" r="1.55" fill="#5a8bd0"/>
<circle cx="659.53" cy="263.99" r="1.55" fill="#5a8bd0"/>
<circle cx="651.70" cy="264.24" r="1.55" fill="#5a8bd0"/>
<circle cx="656.37" cy="264.59" r="1.55" fill="#5a8bd0"/>
<circle cx="665.55" cy="265.62" r="1.55" fill="#5a8bd0"/>
<circle cx="653.92" cy="266.17" r="1.55" fill="#5a8bd0"/>
<circle cx="661.62" cy="266.88" r="1.55" fill="#5a8bd0"/>
<circle cx="650.42" cy="267.21" r="1.55" fill="#5a8bd0"/>
<circle cx="658.59" cy="267.93" r="1.55" fill="#5a8bd0"/>
<circle cx="664.42" cy="268.39" r="1.55" fill="#5a8bd0"/>
<circle cx="655.24" cy="269.72" r="1.55" fill="#5a8bd0"/>
<circle cx="652.17" cy="269.86" r="1.55" fill="#5a8bd0"/>
<circle cx="661.27" cy="270.20" r="1.55" fill="#5a8bd0"/>
<circle cx="657.77" cy="270.49" r="1.55" fill="#5a8bd0"/>
<circle cx="665.82" cy="270.67" r="1.55" fill="#5a8bd0"/>
<circle cx="663.37" cy="271.45" r="1.55" fill="#5a8bd0"/>
<circle cx="650.42" cy="272.59" r="1.55" fill="#5a8bd0"/>
<circle cx="653.92" cy="272.72" r="1.55" fill="#5a8bd0"/>
<circle cx="659.87" cy="273.21" r="1.55" fill="#5a8bd0"/>
<circle cx="665.38" cy="274.57" r="1.55" fill="#5a8bd0"/>
<circle cx="656.94" cy="275.06" r="1.55" fill="#5a8bd0"/>
<circle cx="662.32" cy="275.28" r="1.55" fill="#5a8bd0"/>
<circle cx="652.17" cy="275.87" r="1.55" fill="#5a8bd0"/>
<circle cx="659.52" cy="276.68" r="1.55" fill="#5a8bd0"/>
<circle cx="654.97" cy="277.53" r="1.55" fill="#5a8bd0"/>
<circle cx="661.74" cy="278.83" r="1.55" fill="#5a8bd0"/>
<circle cx="651.27" cy="279.33" r="1.55" fill="#5a8bd0"/>
<circle cx="658.22" cy="280.87" r="1.55" fill="#5a8bd0"/>
<circle cx="654.25" cy="281.84" r="1.55" fill="#5a8bd0"/>
<circle cx="661.77" cy="282.56" r="1.55" fill="#5a8bd0"/>
<circle cx="650.69" cy="283.51" r="1.55" fill="#5a8bd0"/>
<circle cx="658.28" cy="284.47" r="1.55" fill="#5a8bd0"/>
<circle cx="654.14" cy="285.46" r="1.55" fill="#5a8bd0"/>
<circle cx="659.81" cy="287.41" r="1.55" fill="#5a8bd0"/>
<circle cx="657.25" cy="289.41" r="1.55" fill="#5a8bd0"/>
<circle cx="660.32" cy="291.48" r="1.55" fill="#5a8bd0"/>
<circle cx="657.79" cy="297.53" r="1.55" fill="#5a8bd0"/>
<line x1="624.52" y1="268.12" x2="641.72" y2="268.12" stroke="#7f7f7f" stroke-width="1.9"/>
<line x1="649.52" y1="273.33" x2="666.72" y2="273.33" stroke="#7f7f7f" stroke-width="1.9"/>
<path d="M613.9200000000001 221.62H616.72V308.53H675.02" fill="none" stroke="#000" stroke-width="1.35"/>
<line x1="613.9200000000001" y1="243.35" x2="616.72" y2="243.35" stroke="#000" stroke-width="1.35"/>
<line x1="613.9200000000001" y1="265.07" x2="616.72" y2="265.07" stroke="#000" stroke-width="1.35"/>
<line x1="613.9200000000001" y1="286.80" x2="616.72" y2="286.80" stroke="#000" stroke-width="1.35"/>
<line x1="633.12" y1="308.53" x2="633.12" y2="311.33" stroke="#000" stroke-width="1.35"/>
<line x1="658.12" y1="308.53" x2="658.12" y2="311.33" stroke="#000" stroke-width="1.35"/>
<text x="609.22" y="226.03" text-anchor="end" font-size="9.8">1.5</text>
<text x="609.22" y="247.75" text-anchor="end" font-size="9.8">1</text>
<text x="609.22" y="269.47" text-anchor="end" font-size="9.8">0.5</text>
<text x="609.22" y="291.20" text-anchor="end" font-size="9.8">0</text>
<text x="609.22" y="312.93" text-anchor="end" font-size="9.8">-0.5</text>
<path d="M633.12 241.94V238.14H658.12V241.94" fill="none" stroke="#000" stroke-width="1.5"/>
<text x="645.62" y="239.44" text-anchor="middle" font-size="12" font-weight="bold">*</text>
<text x="644.4" y="200" text-anchor="middle" font-size="11.2">Lateral</text>
<text x="644.4" y="212.8" text-anchor="middle" font-size="11.2">prefrontal cortex</text>
<text x="0.5" y="175.8" font-size="11.1">Connections between</text><text x="111.6" y="175.8" font-size="11.1" font-weight="bold">Somatomotor area</text><text x="213.6" y="175.8" font-size="11.1">and</text>
<text x="513.4" y="175.9" font-size="11.1">Connections between</text><text x="624.6" y="175.9" font-size="11.1">Insula</text><text x="654.6" y="178.6" font-size="7.5" fill="#555">L</text><text x="662.4" y="175.9" font-size="11.1">and</text>
<text x="513.4" y="8.8" font-size="11.1">Connections between</text><text x="624.5" y="8.8" font-size="11.1">Insula</text><text x="654.4" y="11.6" font-size="7.5">R</text><text x="662.5" y="8.8" font-size="11.1">and</text>
<text transform="translate(14.4 311.2) rotate(-90)" font-size="11.2">Connection weight</text>
<circle cx="279.50" cy="139.00" r="1.45" fill="#d36a6e" opacity="0.85"/><circle cx="278.00" cy="142.60" r="1.45" fill="#d36a6e" opacity="0.85"/><circle cx="281.10" cy="141.25" r="1.45" fill="#d36a6e" opacity="0.85"/><circle cx="282.90" cy="144.40" r="1.45" fill="#d36a6e" opacity="0.85"/><circle cx="284.70" cy="141.25" r="1.45" fill="#d36a6e" opacity="0.85"/><circle cx="286.90" cy="142.90" r="1.45" fill="#d36a6e" opacity="0.85"/><circle cx="288.70" cy="139.90" r="1.45" fill="#d36a6e" opacity="0.85"/><circle cx="280.00" cy="140.60" r="1.45" fill="#d36a6e" opacity="0.85"/><circle cx="283.80" cy="143.00" r="1.45" fill="#d36a6e" opacity="0.85"/><circle cx="287.80" cy="141.40" r="1.45" fill="#d36a6e" opacity="0.85"/><circle cx="285.80" cy="142.00" r="1.45" fill="#d36a6e" opacity="0.85"/><circle cx="282.00" cy="142.60" r="1.45" fill="#d36a6e" opacity="0.85"/>
<circle cx="279.50" cy="154.00" r="1.45" fill="#6a95d0" opacity="0.85"/><circle cx="278.00" cy="157.60" r="1.45" fill="#6a95d0" opacity="0.85"/><circle cx="281.10" cy="156.25" r="1.45" fill="#6a95d0" opacity="0.85"/><circle cx="282.90" cy="159.40" r="1.45" fill="#6a95d0" opacity="0.85"/><circle cx="284.70" cy="156.25" r="1.45" fill="#6a95d0" opacity="0.85"/><circle cx="286.90" cy="157.90" r="1.45" fill="#6a95d0" opacity="0.85"/><circle cx="288.70" cy="154.90" r="1.45" fill="#6a95d0" opacity="0.85"/><circle cx="280.00" cy="155.60" r="1.45" fill="#6a95d0" opacity="0.85"/><circle cx="283.80" cy="158.00" r="1.45" fill="#6a95d0" opacity="0.85"/><circle cx="287.80" cy="156.40" r="1.45" fill="#6a95d0" opacity="0.85"/><circle cx="285.80" cy="157.00" r="1.45" fill="#6a95d0" opacity="0.85"/><circle cx="282.00" cy="157.60" r="1.45" fill="#6a95d0" opacity="0.85"/>
<text x="295.7" y="145.6" font-size="9.75" fill="#222">Binding condition</text>
<text x="295.7" y="160.3" font-size="9.75" fill="#222">Either-memory condition</text>
<text x="422.6" y="7" font-size="9.7" font-weight="bold">Node degree</text>
<circle cx="441.6" cy="24.6" r="8.3" fill="#6490ca"/>
<circle cx="441.4" cy="48.9" r="5.2" fill="#c75a5e"/>
<circle cx="441.2" cy="69" r="4.0" fill="#9fcf8b"/>
<circle cx="441.3" cy="86.9" r="3.0" fill="#ea7d6b"/>
<text x="457.5" y="28.2" font-size="10.4" fill="#222">5</text>
<text x="457.5" y="53.1" font-size="10.4" fill="#222">3</text>
<text x="457.5" y="72.7" font-size="10.4" fill="#222">2</text>
<text x="457.5" y="90.8" font-size="10.4" fill="#222">1</text>
</svg></body></html>
